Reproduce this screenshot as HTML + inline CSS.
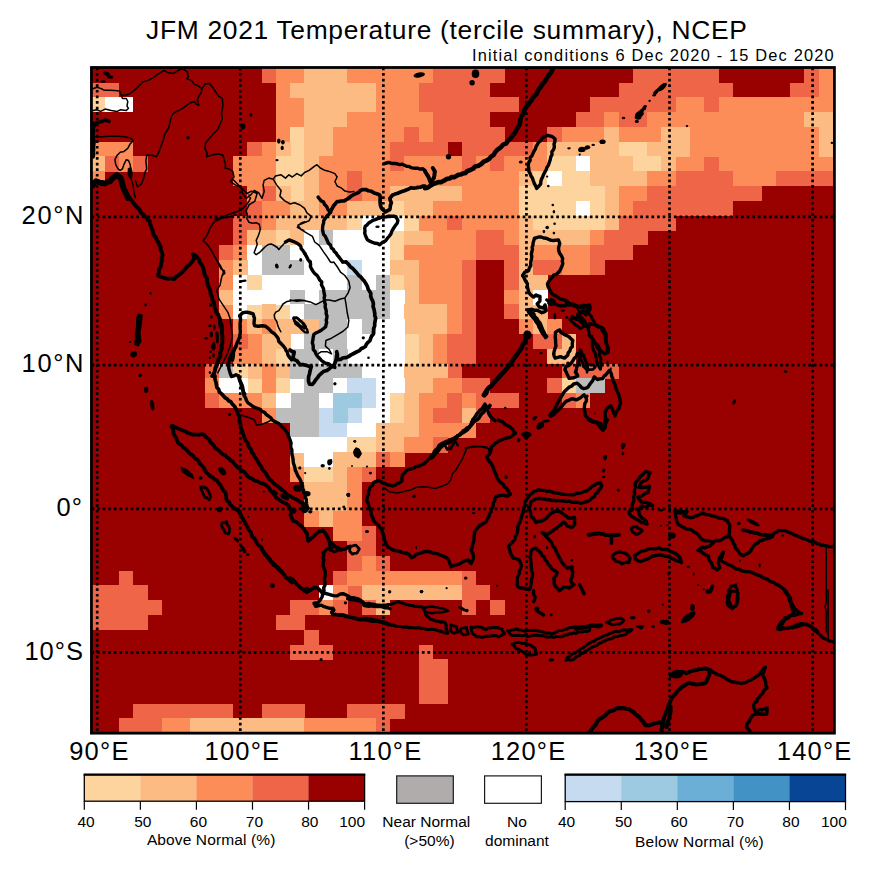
<!DOCTYPE html>
<html><head><meta charset="utf-8"><title>JFM 2021 Temperature (tercile summary), NCEP</title>
<style>
html,body{margin:0;padding:0;background:#fff;}
body{width:893px;height:874px;position:relative;overflow:hidden;font-family:"Liberation Sans",sans-serif;color:#000;}
.t{position:absolute;white-space:nowrap;}
</style></head><body>
<svg width="893" height="874" viewBox="0 0 893 874" style="position:absolute;left:0;top:0">
<defs><clipPath id="cp"><rect x="91.45" y="67.5" width="742.95" height="665.65"/></clipPath></defs>
<g clip-path="url(#cp)" shape-rendering="crispEdges">
<rect x="91.45" y="67.5" width="742.95" height="665.65" fill="#990000"/>
<rect x="261.65" y="67.71" width="14.58" height="15.09" fill="#EF6548"/>
<rect x="261.65" y="186.03" width="14.58" height="15.09" fill="#EF6548"/>
<rect x="275.93" y="67.71" width="28.86" height="15.09" fill="#FC8D59"/>
<rect x="275.93" y="97.29" width="28.86" height="29.88" fill="#FC8D59"/>
<rect x="304.49" y="67.71" width="43.14" height="15.09" fill="#FDBB84"/>
<rect x="304.49" y="112.08" width="43.14" height="15.09" fill="#FDBB84"/>
<rect x="304.49" y="481.83" width="43.14" height="29.88" fill="#FDBB84"/>
<rect x="347.33" y="67.71" width="85.98" height="15.09" fill="#FC8D59"/>
<rect x="347.33" y="112.08" width="85.98" height="15.09" fill="#FC8D59"/>
<rect x="433.01" y="67.71" width="71.7" height="15.09" fill="#EF6548"/>
<rect x="433.01" y="126.87" width="71.7" height="15.09" fill="#EF6548"/>
<rect x="632.93" y="67.71" width="85.98" height="15.09" fill="#EF6548"/>
<rect x="804.29" y="67.71" width="14.58" height="15.09" fill="#EF6548"/>
<rect x="818.57" y="67.71" width="14.58" height="29.88" fill="#FC8D59"/>
<rect x="90.29" y="82.5" width="28.86" height="15.09" fill="#EF6548"/>
<rect x="275.93" y="82.5" width="14.58" height="15.09" fill="#FC8D59"/>
<rect x="275.93" y="126.87" width="14.58" height="15.09" fill="#FC8D59"/>
<rect x="290.21" y="82.5" width="85.98" height="15.09" fill="#FDBB84"/>
<rect x="375.89" y="82.5" width="43.14" height="29.88" fill="#FC8D59"/>
<rect x="418.73" y="82.5" width="71.7" height="15.09" fill="#EF6548"/>
<rect x="618.65" y="82.5" width="114.54" height="15.09" fill="#EF6548"/>
<rect x="790.01" y="82.5" width="28.86" height="15.09" fill="#EF6548"/>
<rect x="90.29" y="97.29" width="14.58" height="15.09" fill="#FDD49E"/>
<rect x="104.57" y="97.29" width="28.86" height="15.09" fill="#FFFFFF"/>
<rect x="304.49" y="97.29" width="71.7" height="15.09" fill="#FDBB84"/>
<rect x="418.73" y="97.29" width="100.26" height="15.09" fill="#EF6548"/>
<rect x="590.09" y="97.29" width="85.98" height="15.09" fill="#EF6548"/>
<rect x="675.77" y="97.29" width="28.86" height="15.09" fill="#FC8D59"/>
<rect x="675.77" y="156.45" width="28.86" height="15.09" fill="#FC8D59"/>
<rect x="704.33" y="97.29" width="14.58" height="15.09" fill="#EF6548"/>
<rect x="704.33" y="156.45" width="14.58" height="15.09" fill="#EF6548"/>
<rect x="718.61" y="97.29" width="114.54" height="15.09" fill="#FC8D59"/>
<rect x="718.61" y="156.45" width="114.54" height="15.09" fill="#FC8D59"/>
<rect x="433.01" y="112.08" width="57.42" height="15.09" fill="#EF6548"/>
<rect x="575.81" y="112.08" width="28.86" height="15.09" fill="#EF6548"/>
<rect x="604.37" y="112.08" width="14.58" height="15.09" fill="#FC8D59"/>
<rect x="618.65" y="112.08" width="28.86" height="15.09" fill="#EF6548"/>
<rect x="647.21" y="112.08" width="157.38" height="15.09" fill="#FC8D59"/>
<rect x="804.29" y="112.08" width="28.86" height="15.09" fill="#FDBB84"/>
<rect x="290.21" y="126.87" width="14.58" height="29.88" fill="#FDD49E"/>
<rect x="290.21" y="186.03" width="14.58" height="15.09" fill="#FDD49E"/>
<rect x="304.49" y="126.87" width="28.86" height="29.88" fill="#FDBB84"/>
<rect x="333.05" y="126.87" width="71.7" height="15.09" fill="#FC8D59"/>
<rect x="404.45" y="126.87" width="14.58" height="15.09" fill="#EF6548"/>
<rect x="418.73" y="126.87" width="14.58" height="15.09" fill="#FC8D59"/>
<rect x="418.73" y="407.88" width="14.58" height="15.09" fill="#FC8D59"/>
<rect x="547.25" y="126.87" width="14.58" height="15.09" fill="#EF6548"/>
<rect x="547.25" y="378.3" width="14.58" height="15.09" fill="#EF6548"/>
<rect x="561.53" y="126.87" width="43.14" height="15.09" fill="#FC8D59"/>
<rect x="604.37" y="126.87" width="14.58" height="15.09" fill="#FDBB84"/>
<rect x="604.37" y="186.03" width="14.58" height="44.67" fill="#FDBB84"/>
<rect x="618.65" y="126.87" width="43.14" height="15.09" fill="#FC8D59"/>
<rect x="661.49" y="126.87" width="28.86" height="15.09" fill="#FDBB84"/>
<rect x="690.05" y="126.87" width="128.82" height="29.88" fill="#FC8D59"/>
<rect x="818.57" y="126.87" width="14.58" height="29.88" fill="#FDBB84"/>
<rect x="90.29" y="141.66" width="43.14" height="15.09" fill="#FC8D59"/>
<rect x="247.37" y="141.66" width="14.58" height="15.09" fill="#EF6548"/>
<rect x="247.37" y="200.82" width="14.58" height="15.09" fill="#EF6548"/>
<rect x="261.65" y="141.66" width="14.58" height="15.09" fill="#FC8D59"/>
<rect x="261.65" y="215.61" width="14.58" height="15.09" fill="#FC8D59"/>
<rect x="261.65" y="319.14" width="14.58" height="15.09" fill="#FC8D59"/>
<rect x="261.65" y="363.51" width="14.58" height="29.88" fill="#FC8D59"/>
<rect x="261.65" y="407.88" width="14.58" height="15.09" fill="#FC8D59"/>
<rect x="275.93" y="141.66" width="14.58" height="15.09" fill="#FDBB84"/>
<rect x="275.93" y="186.03" width="14.58" height="15.09" fill="#FDBB84"/>
<rect x="275.93" y="363.51" width="14.58" height="15.09" fill="#FDBB84"/>
<rect x="333.05" y="141.66" width="57.42" height="15.09" fill="#FC8D59"/>
<rect x="390.17" y="141.66" width="57.42" height="15.09" fill="#EF6548"/>
<rect x="461.57" y="141.66" width="71.7" height="15.09" fill="#EF6548"/>
<rect x="532.97" y="141.66" width="14.58" height="15.09" fill="#FC8D59"/>
<rect x="547.25" y="141.66" width="71.7" height="15.09" fill="#FDBB84"/>
<rect x="618.65" y="141.66" width="28.86" height="15.09" fill="#FDD49E"/>
<rect x="647.21" y="141.66" width="43.14" height="15.09" fill="#FDBB84"/>
<rect x="90.29" y="156.45" width="14.58" height="15.09" fill="#FDBB84"/>
<rect x="104.57" y="156.45" width="14.58" height="15.09" fill="#EF6548"/>
<rect x="118.85" y="156.45" width="14.58" height="15.09" fill="#FC8D59"/>
<rect x="133.13" y="156.45" width="14.58" height="15.09" fill="#EF6548"/>
<rect x="233.09" y="156.45" width="43.14" height="29.88" fill="#FC8D59"/>
<rect x="275.93" y="156.45" width="28.86" height="29.88" fill="#FDD49E"/>
<rect x="304.49" y="156.45" width="14.58" height="44.67" fill="#FDBB84"/>
<rect x="318.77" y="156.45" width="71.7" height="15.09" fill="#FC8D59"/>
<rect x="390.17" y="156.45" width="14.58" height="15.09" fill="#EF6548"/>
<rect x="404.45" y="156.45" width="57.42" height="15.09" fill="#FC8D59"/>
<rect x="461.57" y="156.45" width="14.58" height="15.09" fill="#EF6548"/>
<rect x="461.57" y="259.98" width="14.58" height="74.25" fill="#EF6548"/>
<rect x="461.57" y="570.57" width="14.58" height="15.09" fill="#EF6548"/>
<rect x="461.57" y="600.15" width="14.58" height="15.09" fill="#EF6548"/>
<rect x="475.85" y="156.45" width="14.58" height="15.09" fill="#FC8D59"/>
<rect x="490.13" y="156.45" width="14.58" height="15.09" fill="#EF6548"/>
<rect x="490.13" y="600.15" width="14.58" height="15.09" fill="#EF6548"/>
<rect x="504.41" y="156.45" width="43.14" height="15.09" fill="#FC8D59"/>
<rect x="547.25" y="156.45" width="28.86" height="15.09" fill="#FDD49E"/>
<rect x="575.81" y="156.45" width="14.58" height="15.09" fill="#FFFFFF"/>
<rect x="575.81" y="200.82" width="14.58" height="15.09" fill="#FFFFFF"/>
<rect x="590.09" y="156.45" width="43.14" height="15.09" fill="#FDBB84"/>
<rect x="632.93" y="156.45" width="28.86" height="15.09" fill="#FDD49E"/>
<rect x="661.49" y="156.45" width="14.58" height="15.09" fill="#FDBB84"/>
<rect x="90.29" y="171.24" width="14.58" height="15.09" fill="#FC8D59"/>
<rect x="318.77" y="171.24" width="28.86" height="44.67" fill="#FC8D59"/>
<rect x="347.33" y="171.24" width="14.58" height="29.88" fill="#EF6548"/>
<rect x="347.33" y="555.78" width="14.58" height="15.09" fill="#EF6548"/>
<rect x="347.33" y="585.36" width="14.58" height="15.09" fill="#EF6548"/>
<rect x="361.61" y="171.24" width="157.38" height="15.09" fill="#FC8D59"/>
<rect x="518.69" y="171.24" width="14.58" height="15.09" fill="#FDBB84"/>
<rect x="518.69" y="215.61" width="14.58" height="15.09" fill="#FDBB84"/>
<rect x="518.69" y="245.19" width="14.58" height="29.88" fill="#FDBB84"/>
<rect x="518.69" y="289.56" width="14.58" height="15.09" fill="#FDBB84"/>
<rect x="532.97" y="171.24" width="14.58" height="15.09" fill="#FDD49E"/>
<rect x="547.25" y="171.24" width="14.58" height="15.09" fill="#FFFFFF"/>
<rect x="561.53" y="171.24" width="28.86" height="15.09" fill="#FDD49E"/>
<rect x="590.09" y="171.24" width="57.42" height="15.09" fill="#FDBB84"/>
<rect x="647.21" y="171.24" width="28.86" height="15.09" fill="#FC8D59"/>
<rect x="675.77" y="171.24" width="57.42" height="15.09" fill="#EF6548"/>
<rect x="732.89" y="171.24" width="43.14" height="15.09" fill="#FC8D59"/>
<rect x="775.73" y="171.24" width="57.42" height="15.09" fill="#EF6548"/>
<rect x="247.37" y="186.03" width="14.58" height="15.09" fill="#FC8D59"/>
<rect x="247.37" y="333.93" width="14.58" height="15.09" fill="#FC8D59"/>
<rect x="361.61" y="186.03" width="28.86" height="15.09" fill="#FC8D59"/>
<rect x="390.17" y="186.03" width="71.7" height="15.09" fill="#FDBB84"/>
<rect x="461.57" y="186.03" width="57.42" height="15.09" fill="#FC8D59"/>
<rect x="461.57" y="215.61" width="57.42" height="15.09" fill="#FC8D59"/>
<rect x="518.69" y="186.03" width="85.98" height="15.09" fill="#FDD49E"/>
<rect x="618.65" y="186.03" width="28.86" height="15.09" fill="#FC8D59"/>
<rect x="647.21" y="186.03" width="114.54" height="15.09" fill="#EF6548"/>
<rect x="261.65" y="200.82" width="28.86" height="15.09" fill="#FC8D59"/>
<rect x="290.21" y="200.82" width="28.86" height="15.09" fill="#FDBB84"/>
<rect x="347.33" y="200.82" width="43.14" height="15.09" fill="#FDBB84"/>
<rect x="390.17" y="200.82" width="14.58" height="15.09" fill="#FDD49E"/>
<rect x="390.17" y="230.4" width="14.58" height="29.88" fill="#FDD49E"/>
<rect x="390.17" y="274.77" width="14.58" height="15.09" fill="#FDD49E"/>
<rect x="390.17" y="393.09" width="14.58" height="29.88" fill="#FDD49E"/>
<rect x="404.45" y="200.82" width="28.86" height="15.09" fill="#FDBB84"/>
<rect x="404.45" y="230.4" width="28.86" height="15.09" fill="#FDBB84"/>
<rect x="404.45" y="378.3" width="28.86" height="15.09" fill="#FDBB84"/>
<rect x="433.01" y="200.82" width="85.98" height="15.09" fill="#FC8D59"/>
<rect x="518.69" y="200.82" width="57.42" height="15.09" fill="#FDD49E"/>
<rect x="590.09" y="200.82" width="14.58" height="15.09" fill="#FDD49E"/>
<rect x="618.65" y="200.82" width="14.58" height="15.09" fill="#FC8D59"/>
<rect x="632.93" y="200.82" width="100.26" height="15.09" fill="#EF6548"/>
<rect x="233.09" y="215.61" width="28.86" height="15.09" fill="#EF6548"/>
<rect x="275.93" y="215.61" width="71.7" height="15.09" fill="#FDBB84"/>
<rect x="347.33" y="215.61" width="14.58" height="15.09" fill="#FDD49E"/>
<rect x="361.61" y="215.61" width="43.14" height="15.09" fill="#FFFFFF"/>
<rect x="361.61" y="363.51" width="43.14" height="15.09" fill="#FFFFFF"/>
<rect x="404.45" y="215.61" width="14.58" height="15.09" fill="#FDD49E"/>
<rect x="404.45" y="333.93" width="14.58" height="29.88" fill="#FDD49E"/>
<rect x="418.73" y="215.61" width="28.86" height="15.09" fill="#FC8D59"/>
<rect x="418.73" y="393.09" width="28.86" height="15.09" fill="#FC8D59"/>
<rect x="447.29" y="215.61" width="14.58" height="15.09" fill="#EF6548"/>
<rect x="447.29" y="363.51" width="14.58" height="15.09" fill="#EF6548"/>
<rect x="447.29" y="393.09" width="14.58" height="15.09" fill="#EF6548"/>
<rect x="532.97" y="215.61" width="71.7" height="15.09" fill="#FDD49E"/>
<rect x="618.65" y="215.61" width="57.42" height="15.09" fill="#EF6548"/>
<rect x="233.09" y="230.4" width="14.58" height="15.09" fill="#EF6548"/>
<rect x="233.09" y="333.93" width="14.58" height="15.09" fill="#EF6548"/>
<rect x="247.37" y="230.4" width="28.86" height="15.09" fill="#FDBB84"/>
<rect x="275.93" y="230.4" width="14.58" height="15.09" fill="#FDD49E"/>
<rect x="275.93" y="304.35" width="14.58" height="15.09" fill="#FDD49E"/>
<rect x="275.93" y="348.72" width="14.58" height="15.09" fill="#FDD49E"/>
<rect x="275.93" y="378.3" width="14.58" height="15.09" fill="#FDD49E"/>
<rect x="290.21" y="230.4" width="14.58" height="15.09" fill="#FDBB84"/>
<rect x="290.21" y="452.25" width="14.58" height="15.09" fill="#FDBB84"/>
<rect x="304.49" y="230.4" width="14.58" height="15.09" fill="#FFFFFF"/>
<rect x="304.49" y="289.56" width="14.58" height="15.09" fill="#FFFFFF"/>
<rect x="318.77" y="230.4" width="14.58" height="15.09" fill="#BDBDBD"/>
<rect x="333.05" y="230.4" width="57.42" height="15.09" fill="#FFFFFF"/>
<rect x="433.01" y="230.4" width="43.14" height="15.09" fill="#FC8D59"/>
<rect x="475.85" y="230.4" width="28.86" height="15.09" fill="#EF6548"/>
<rect x="504.41" y="230.4" width="14.58" height="15.09" fill="#FC8D59"/>
<rect x="504.41" y="289.56" width="14.58" height="15.09" fill="#FC8D59"/>
<rect x="518.69" y="230.4" width="71.7" height="15.09" fill="#FDBB84"/>
<rect x="590.09" y="230.4" width="14.58" height="15.09" fill="#FC8D59"/>
<rect x="604.37" y="230.4" width="43.14" height="15.09" fill="#EF6548"/>
<rect x="218.81" y="245.19" width="14.58" height="15.09" fill="#EF6548"/>
<rect x="233.09" y="245.19" width="14.58" height="15.09" fill="#FC8D59"/>
<rect x="233.09" y="319.14" width="14.58" height="15.09" fill="#FC8D59"/>
<rect x="247.37" y="245.19" width="14.58" height="29.88" fill="#FFFFFF"/>
<rect x="261.65" y="245.19" width="28.86" height="15.09" fill="#BDBDBD"/>
<rect x="290.21" y="245.19" width="100.26" height="15.09" fill="#FFFFFF"/>
<rect x="404.45" y="245.19" width="71.7" height="15.09" fill="#FC8D59"/>
<rect x="475.85" y="245.19" width="43.14" height="15.09" fill="#EF6548"/>
<rect x="475.85" y="393.09" width="43.14" height="15.09" fill="#EF6548"/>
<rect x="532.97" y="245.19" width="57.42" height="15.09" fill="#FC8D59"/>
<rect x="590.09" y="245.19" width="43.14" height="15.09" fill="#EF6548"/>
<rect x="218.81" y="259.98" width="14.58" height="29.88" fill="#FC8D59"/>
<rect x="218.81" y="304.35" width="14.58" height="15.09" fill="#FC8D59"/>
<rect x="233.09" y="259.98" width="14.58" height="15.09" fill="#FDBB84"/>
<rect x="261.65" y="259.98" width="43.14" height="15.09" fill="#BDBDBD"/>
<rect x="304.49" y="259.98" width="43.14" height="15.09" fill="#FFFFFF"/>
<rect x="347.33" y="259.98" width="14.58" height="15.09" fill="#C6DBEF"/>
<rect x="347.33" y="407.88" width="14.58" height="15.09" fill="#C6DBEF"/>
<rect x="361.61" y="259.98" width="28.86" height="15.09" fill="#FFFFFF"/>
<rect x="361.61" y="407.88" width="28.86" height="15.09" fill="#FFFFFF"/>
<rect x="390.17" y="259.98" width="28.86" height="15.09" fill="#FDBB84"/>
<rect x="418.73" y="259.98" width="43.14" height="44.67" fill="#FC8D59"/>
<rect x="504.41" y="259.98" width="14.58" height="29.88" fill="#EF6548"/>
<rect x="504.41" y="304.35" width="14.58" height="15.09" fill="#EF6548"/>
<rect x="532.97" y="259.98" width="28.86" height="15.09" fill="#EF6548"/>
<rect x="532.97" y="333.93" width="28.86" height="15.09" fill="#EF6548"/>
<rect x="561.53" y="259.98" width="28.86" height="15.09" fill="#FC8D59"/>
<rect x="590.09" y="259.98" width="14.58" height="15.09" fill="#EF6548"/>
<rect x="233.09" y="274.77" width="14.58" height="15.09" fill="#FFFFFF"/>
<rect x="233.09" y="304.35" width="14.58" height="15.09" fill="#FFFFFF"/>
<rect x="247.37" y="274.77" width="14.58" height="15.09" fill="#FDD49E"/>
<rect x="247.37" y="304.35" width="14.58" height="15.09" fill="#FDD49E"/>
<rect x="247.37" y="378.3" width="14.58" height="15.09" fill="#FDD49E"/>
<rect x="261.65" y="274.77" width="85.98" height="15.09" fill="#FFFFFF"/>
<rect x="347.33" y="274.77" width="14.58" height="15.09" fill="#BDBDBD"/>
<rect x="361.61" y="274.77" width="14.58" height="15.09" fill="#FFFFFF"/>
<rect x="375.89" y="274.77" width="14.58" height="15.09" fill="#BDBDBD"/>
<rect x="404.45" y="274.77" width="14.58" height="29.88" fill="#FDBB84"/>
<rect x="404.45" y="393.09" width="14.58" height="29.88" fill="#FDBB84"/>
<rect x="518.69" y="274.77" width="28.86" height="15.09" fill="#FDBB84"/>
<rect x="518.69" y="304.35" width="28.86" height="15.09" fill="#FDBB84"/>
<rect x="218.81" y="289.56" width="14.58" height="15.09" fill="#FDBB84"/>
<rect x="233.09" y="289.56" width="57.42" height="15.09" fill="#FFFFFF"/>
<rect x="290.21" y="289.56" width="14.58" height="15.09" fill="#BDBDBD"/>
<rect x="318.77" y="289.56" width="71.7" height="15.09" fill="#BDBDBD"/>
<rect x="390.17" y="289.56" width="14.58" height="29.88" fill="#FFFFFF"/>
<rect x="532.97" y="289.56" width="14.58" height="15.09" fill="#FFFFFF"/>
<rect x="261.65" y="304.35" width="14.58" height="15.09" fill="#FDBB84"/>
<rect x="261.65" y="348.72" width="14.58" height="15.09" fill="#FDBB84"/>
<rect x="261.65" y="393.09" width="14.58" height="15.09" fill="#FDBB84"/>
<rect x="290.21" y="304.35" width="14.58" height="15.09" fill="#FFFFFF"/>
<rect x="290.21" y="333.93" width="14.58" height="15.09" fill="#FFFFFF"/>
<rect x="290.21" y="378.3" width="14.58" height="15.09" fill="#FFFFFF"/>
<rect x="304.49" y="304.35" width="85.98" height="15.09" fill="#BDBDBD"/>
<rect x="404.45" y="304.35" width="43.14" height="29.88" fill="#FDBB84"/>
<rect x="404.45" y="363.51" width="43.14" height="15.09" fill="#FDBB84"/>
<rect x="447.29" y="304.35" width="14.58" height="29.88" fill="#FC8D59"/>
<rect x="247.37" y="319.14" width="14.58" height="15.09" fill="#FDBB84"/>
<rect x="247.37" y="363.51" width="14.58" height="15.09" fill="#FDBB84"/>
<rect x="275.93" y="319.14" width="43.14" height="15.09" fill="#FDBB84"/>
<rect x="318.77" y="319.14" width="28.86" height="15.09" fill="#BDBDBD"/>
<rect x="347.33" y="319.14" width="14.58" height="15.09" fill="#FFFFFF"/>
<rect x="361.61" y="319.14" width="14.58" height="15.09" fill="#BDBDBD"/>
<rect x="375.89" y="319.14" width="28.86" height="15.09" fill="#FFFFFF"/>
<rect x="375.89" y="378.3" width="28.86" height="15.09" fill="#FFFFFF"/>
<rect x="518.69" y="319.14" width="14.58" height="15.09" fill="#FC8D59"/>
<rect x="532.97" y="319.14" width="14.58" height="15.09" fill="#FDBB84"/>
<rect x="547.25" y="319.14" width="14.58" height="15.09" fill="#FC8D59"/>
<rect x="261.65" y="333.93" width="28.86" height="15.09" fill="#FDBB84"/>
<rect x="304.49" y="333.93" width="43.14" height="15.09" fill="#BDBDBD"/>
<rect x="347.33" y="333.93" width="57.42" height="29.88" fill="#FFFFFF"/>
<rect x="418.73" y="333.93" width="14.58" height="29.88" fill="#FDBB84"/>
<rect x="433.01" y="333.93" width="14.58" height="29.88" fill="#FC8D59"/>
<rect x="447.29" y="333.93" width="28.86" height="29.88" fill="#EF6548"/>
<rect x="561.53" y="333.93" width="14.58" height="15.09" fill="#FDBB84"/>
<rect x="233.09" y="348.72" width="28.86" height="15.09" fill="#FC8D59"/>
<rect x="290.21" y="348.72" width="28.86" height="15.09" fill="#BDBDBD"/>
<rect x="290.21" y="393.09" width="28.86" height="15.09" fill="#BDBDBD"/>
<rect x="290.21" y="422.67" width="28.86" height="15.09" fill="#BDBDBD"/>
<rect x="318.77" y="348.72" width="14.58" height="15.09" fill="#FFFFFF"/>
<rect x="318.77" y="393.09" width="14.58" height="15.09" fill="#FFFFFF"/>
<rect x="318.77" y="585.36" width="14.58" height="15.09" fill="#FFFFFF"/>
<rect x="333.05" y="348.72" width="14.58" height="15.09" fill="#BDBDBD"/>
<rect x="547.25" y="348.72" width="28.86" height="15.09" fill="#FDBB84"/>
<rect x="204.53" y="363.51" width="14.58" height="15.09" fill="#EF6548"/>
<rect x="204.53" y="393.09" width="14.58" height="15.09" fill="#EF6548"/>
<rect x="218.81" y="363.51" width="14.58" height="15.09" fill="#BDBDBD"/>
<rect x="233.09" y="363.51" width="14.58" height="15.09" fill="#FDD49E"/>
<rect x="290.21" y="363.51" width="71.7" height="15.09" fill="#BDBDBD"/>
<rect x="561.53" y="363.51" width="57.42" height="15.09" fill="#EF6548"/>
<rect x="204.53" y="378.3" width="14.58" height="15.09" fill="#FC8D59"/>
<rect x="218.81" y="378.3" width="28.86" height="15.09" fill="#FFFFFF"/>
<rect x="304.49" y="378.3" width="28.86" height="15.09" fill="#BDBDBD"/>
<rect x="333.05" y="378.3" width="14.58" height="15.09" fill="#FFFFFF"/>
<rect x="347.33" y="378.3" width="28.86" height="15.09" fill="#C6DBEF"/>
<rect x="433.01" y="378.3" width="28.86" height="15.09" fill="#FC8D59"/>
<rect x="461.57" y="378.3" width="28.86" height="15.09" fill="#EF6548"/>
<rect x="461.57" y="585.36" width="28.86" height="15.09" fill="#EF6548"/>
<rect x="561.53" y="378.3" width="14.58" height="15.09" fill="#FDD49E"/>
<rect x="575.81" y="378.3" width="28.86" height="15.09" fill="#BDBDBD"/>
<rect x="218.81" y="393.09" width="43.14" height="15.09" fill="#FC8D59"/>
<rect x="275.93" y="393.09" width="14.58" height="15.09" fill="#FFFFFF"/>
<rect x="333.05" y="393.09" width="28.86" height="15.09" fill="#9ECAE1"/>
<rect x="361.61" y="393.09" width="14.58" height="15.09" fill="#C6DBEF"/>
<rect x="375.89" y="393.09" width="14.58" height="15.09" fill="#FFFFFF"/>
<rect x="461.57" y="393.09" width="14.58" height="15.09" fill="#FC8D59"/>
<rect x="561.53" y="393.09" width="14.58" height="15.09" fill="#EF6548"/>
<rect x="575.81" y="393.09" width="14.58" height="15.09" fill="#FC8D59"/>
<rect x="275.93" y="407.88" width="43.14" height="15.09" fill="#BDBDBD"/>
<rect x="318.77" y="407.88" width="14.58" height="15.09" fill="#C6DBEF"/>
<rect x="333.05" y="407.88" width="14.58" height="15.09" fill="#9ECAE1"/>
<rect x="433.01" y="407.88" width="28.86" height="15.09" fill="#EF6548"/>
<rect x="461.57" y="407.88" width="14.58" height="15.09" fill="#FDBB84"/>
<rect x="475.85" y="407.88" width="14.58" height="15.09" fill="#EF6548"/>
<rect x="318.77" y="422.67" width="28.86" height="15.09" fill="#C6DBEF"/>
<rect x="347.33" y="422.67" width="28.86" height="15.09" fill="#FFFFFF"/>
<rect x="375.89" y="422.67" width="43.14" height="15.09" fill="#FDBB84"/>
<rect x="418.73" y="422.67" width="57.42" height="15.09" fill="#FC8D59"/>
<rect x="290.21" y="437.46" width="57.42" height="15.09" fill="#FFFFFF"/>
<rect x="347.33" y="437.46" width="28.86" height="15.09" fill="#FDD49E"/>
<rect x="375.89" y="437.46" width="28.86" height="15.09" fill="#FDBB84"/>
<rect x="404.45" y="437.46" width="28.86" height="15.09" fill="#FC8D59"/>
<rect x="433.01" y="437.46" width="14.58" height="15.09" fill="#EF6548"/>
<rect x="304.49" y="452.25" width="28.86" height="15.09" fill="#FFFFFF"/>
<rect x="333.05" y="452.25" width="43.14" height="15.09" fill="#FDBB84"/>
<rect x="375.89" y="452.25" width="14.58" height="15.09" fill="#EF6548"/>
<rect x="375.89" y="555.78" width="14.58" height="15.09" fill="#EF6548"/>
<rect x="375.89" y="718.47" width="14.58" height="15.09" fill="#EF6548"/>
<rect x="390.17" y="452.25" width="14.58" height="15.09" fill="#FC8D59"/>
<rect x="290.21" y="467.04" width="14.58" height="15.09" fill="#FC8D59"/>
<rect x="304.49" y="467.04" width="28.86" height="15.09" fill="#FDD49E"/>
<rect x="333.05" y="467.04" width="14.58" height="15.09" fill="#FDBB84"/>
<rect x="347.33" y="467.04" width="14.58" height="44.67" fill="#FC8D59"/>
<rect x="361.61" y="467.04" width="14.58" height="15.09" fill="#EF6548"/>
<rect x="361.61" y="526.2" width="14.58" height="15.09" fill="#EF6548"/>
<rect x="361.61" y="600.15" width="14.58" height="15.09" fill="#EF6548"/>
<rect x="304.49" y="511.41" width="14.58" height="15.09" fill="#FC8D59"/>
<rect x="318.77" y="511.41" width="14.58" height="15.09" fill="#FDBB84"/>
<rect x="333.05" y="511.41" width="28.86" height="29.88" fill="#FC8D59"/>
<rect x="347.33" y="540.99" width="28.86" height="15.09" fill="#EF6548"/>
<rect x="361.61" y="555.78" width="14.58" height="15.09" fill="#FC8D59"/>
<rect x="118.85" y="570.57" width="14.58" height="15.09" fill="#EF6548"/>
<rect x="333.05" y="570.57" width="14.58" height="15.09" fill="#EF6548"/>
<rect x="333.05" y="600.15" width="14.58" height="15.09" fill="#EF6548"/>
<rect x="347.33" y="570.57" width="114.54" height="15.09" fill="#FC8D59"/>
<rect x="90.29" y="585.36" width="57.42" height="15.09" fill="#EF6548"/>
<rect x="90.29" y="614.94" width="57.42" height="15.09" fill="#EF6548"/>
<rect x="333.05" y="585.36" width="14.58" height="15.09" fill="#FC8D59"/>
<rect x="361.61" y="585.36" width="100.26" height="15.09" fill="#FDBB84"/>
<rect x="90.29" y="600.15" width="71.7" height="15.09" fill="#EF6548"/>
<rect x="290.21" y="600.15" width="28.86" height="15.09" fill="#EF6548"/>
<rect x="318.77" y="600.15" width="14.58" height="15.09" fill="#FC8D59"/>
<rect x="375.89" y="600.15" width="14.58" height="15.09" fill="#FDBB84"/>
<rect x="275.93" y="614.94" width="28.86" height="15.09" fill="#EF6548"/>
<rect x="304.49" y="629.73" width="14.58" height="15.09" fill="#EF6548"/>
<rect x="290.21" y="644.52" width="43.14" height="15.09" fill="#EF6548"/>
<rect x="418.73" y="644.52" width="14.58" height="15.09" fill="#EF6548"/>
<rect x="418.73" y="659.31" width="28.86" height="44.67" fill="#EF6548"/>
<rect x="133.13" y="703.68" width="100.26" height="15.09" fill="#EF6548"/>
<rect x="261.65" y="703.68" width="43.14" height="15.09" fill="#EF6548"/>
<rect x="347.33" y="703.68" width="57.42" height="15.09" fill="#EF6548"/>
<rect x="118.85" y="718.47" width="43.14" height="15.09" fill="#EF6548"/>
<rect x="161.69" y="718.47" width="28.86" height="15.09" fill="#FC8D59"/>
<rect x="190.25" y="718.47" width="114.54" height="15.09" fill="#FDBB84"/>
<rect x="304.49" y="718.47" width="71.7" height="15.09" fill="#FC8D59"/>
</g>
<g clip-path="url(#cp)"><g stroke="#000" stroke-width="2.7" stroke-dasharray="2.7 2.9" fill="none"><line x1="97.2" y1="67.5" x2="97.2" y2="733.15"/><line x1="240.28" y1="67.5" x2="240.28" y2="733.15"/><line x1="383.36" y1="67.5" x2="383.36" y2="733.15"/><line x1="526.44" y1="67.5" x2="526.44" y2="733.15"/><line x1="669.52" y1="67.5" x2="669.52" y2="733.15"/><line x1="812.6" y1="67.5" x2="812.6" y2="733.15"/><line x1="91.45" y1="216.8" x2="834.4" y2="216.8"/><line x1="91.45" y1="365.2" x2="834.4" y2="365.2"/><line x1="91.45" y1="508.8" x2="834.4" y2="508.8"/><line x1="91.45" y1="652.3" x2="834.4" y2="652.3"/></g>
<g fill="none" stroke="#000" stroke-linejoin="round" stroke-linecap="round"><path stroke-width="3.5" d="M318.1 197.2 319.6 199 321.1 200.9 323.5 201.9 324.4 204.2 326.7 206.6 328 209.6 330.4 212.2"/><path stroke-width="1.5" d="M93 88.7 96.8 87.2 100.6 88.4 104.4 90.2 109.7 90.2 114.9 90.5 119.5 90.9 121 94.7 124 95.5 129.3 94 133.8 90.9 138.4 86.4 142.9 81.9 148.2 80.4 153.5 77.3 158.8 73.6 164.1 70.5 168.6 72.8 173.1 73.6 176.9 71.3 180.7 69 184.5 69.8 187.5 72 188.3 76.6 186.8 78.8 191.3 80.4 194.3 84.1 198.1 85.7 201.9 88.7 201.1 92.5 198.8 96.2 197.3 100 198.8 105.3 195.8 103.8 194.3 101.5 189.8 103 183.7 107.6 178.4 110.6 173.9 112.9 171.6 115.9 170.1 121.9 168.6 128 164.8 134 163.3 140.1 161.1 146.1 158.8 152.2 156.5 156.7 152 155.2 146.7 155.2 145.9 161.2 146.7 168.8 145.2 171.8 143.7 177.9 141.4 183.9 137.6 186.9 135.4 180.9M201.9 88.7 204.9 84.1 209.4 83.4 212.5 87.2 215.5 91.7 218.5 96.2 222.3 98.5 223 105.3 221.5 112.9 222.3 118.9 220 124.2 217.7 129.5 213.2 134 209.4 138.6 205.6 143.1 204.9 148.4 207.2 152.9 206.4 156.7 210.9 155.2 218.5 153.7 223 155.2 225 162.8M121 94.7 122.5 98.5 126.3 98.5 127.8 101.5 127 106.1 128.5 108.3 126.3 110.6 120.2 109.8 117.2 111.4 111.2 110.6 105.1 109.1 100.6 111.4 96.8 109.8 93 110.6M95.3 137.1 102.1 136.8 109.7 136.3 117.2 136.3 124.8 136.8 130.8 138.3 133.1 140.8 130.1 143.9 127.8 148.4 124 151.4 120.2 152.2 117.2 155.2 114.9 159.7 115.7 164.3 118 168.8 120.2 170.3 122.5 168.8 124 164.3 126.3 159.7 128.5 160.5 130.1 164.3 130.8 168.8M130.8 177.9 133.1 185.4 133.8 191.5 135.4 197.5M264.2 180.4 268.7 178.1 273.2 179.2 275.5 175.9 281.1 174.8 285.5 178.1 288.9 174.8 292.3 177 296.8 173.6 301.2 175.9 304.6 172.5 309.1 170.3 313.6 166.9 316.9 164.7 320.3 168 324.8 170.3 329.3 171.4 334.9 173.6 337.1 177 334.9 181.5 337.1 186 341.6 188.2 345 191.1 349.5 192 353.9 191.6M225 168 229.5 169.2 232.8 171.4 234 177 230.6 181.5 235.1 184.9 240.7 187.1 242.9 193.8 246.3 198.3 250.8 194.9 254.2 190.5 258.6 192.7 262 198.3 264.2 191.6 263.1 184.9 264.2 180.4M273.2 179.2 276.6 184.9 281.1 190.5 279.9 196.1 284.4 200.6 290 203.9 294.5 202.8 300.1 205 304.6 208.4 306.9 212.9 311.3 216.3 309.1 220.7 303.5 223 297.9 225.2 301.2 229.7 306.9 233.1 312.5 236.4 314.7 242 319.2 245.4 323.7 252.1 327 256.6 330.4 262M249 195 250.5 198.1 249 201.2 246.9 204.3 243.8 207.4 240.7 210.4 237.1 211.5 233.5 213 229.4 214.1 225.3 215.6 221.2 217.1 217.1 218.7 215 219.2M245.9 210.4 247.4 214.6 246.9 218.7 249 222.3 252.6 223.3 256.2 222.8 259.3 224.3 260.3 229 259.3 233.1 257.7 237.2 256.2 240.3 257.2 244.4 255.7 248.5 254.1 252.7 256.2 254.7 259.3 252.7 262.4 249.6 265.5 246.5 268.5 244.4 271.1 243.9 274.2 245.5 277.3 247.5 278.8 249.6 280.9 247 283.5 244.4 285.5 241.9M305 221.8 301.5 222.8 298.9 224.9 297.4 227.4 300.5 229 303.6 230.5 305 232.1M215 256.8 217.1 260.9 219.1 265 221.2 269.1 224.3 270.7 224.8 273.3 222.2 275.3 221.2 279.4 220.1 285M235.8 214.8 229 217 222.3 218.1 214.5 221.5 210 228.2 206.6 236.1 203.2 240.5 207.7 245 212.2 251.8 215.6 258.5 220.1 265.2 223.4 271.9 221.2 278.7 220.1 285.4 216.7 289.9 218.9 298.9 223.4 305.6 227.9 312.3 230.2 319 231.3 328 232.4 337 230.2 345.9 226.8 354.9 222.3 363.9 217.8 372.9M233.5 180 240.3 186.7 247 193.5 251.5 191.2 257.1 193.5 254.8 201.3 249.2 204.7 245.9 211.4M305 300.4 300.5 300.1 296.4 299.9 292.2 300.4 287.1 301.4 283 304 280.9 307.6 278.8 310.7 275.8 312.2 274.2 314.8 274.7 318.4 276.8 321.5 277.8 325.6 279.4 329.2 280.9 331.8M329.2 300.1 334.9 301.2 340.5 299 344.9 297.9 346.1 304.6 347.2 312.5 348.8 320.3 347.9 327 342.7 331.5 337.1 334.9 331.5 338.2 325.9 340.5 325.4 346.1 329.2 349.5 331.5 353.9 327 351.7 321.4 351.7 318 353.9M290 300.1 296.7 301.2 303.5 300.6 310.2 301.9 315.8 304.6 320.3 302.4 324.8 300.1 329.2 300.1M333.7 262 337.1 266.5 340.5 272.1 344.9 275.5 348.8 281.1 350.1 287.8 347.9 293.4 344.9 297.9M464.9 448.1 473.9 446.3 482.9 447 490 449.3M241.9 415.2 248.7 417.5 254.3 419.7 256.5 425.3 262.1 424.2 267.7 422 272.2 419.7M383.8 487.3 389.4 491.8 397.3 492.9 405.1 491.3 411.9 489.5 416.3 487.3 421.9 486.8 428.7 487.3 435.4 488.4 442.1 486.2 447.7 483.9 451.1 479.4 452.2 473.8 455.6 470.5 458.9 464.9 462.3 459.2 464.6 453.6 466.8 448 473.5 446.9 480.3 446.5 487 446.9 490.3 452.5M826.3 547.6 826.3 602.6 825 607 826.3 611.4 826.3 632M828.1 590 828.1 641M330.4 262 332 262.5 333.7 262M225 162.7 225.5 165.5 225 168"/><path d="M92.7 126.5 94.4 125 96 123.4 98.3 122.3 100.7 121.7 102.9 120.9 105.2 120 108.9 121.3" stroke-width="3.7"/><path d="M93.3 123.4 93.7 126.1 93 128.7 93.3 131.4 92.8 134 92.9 136.7 92.9 139.3 93.9 141.9 93.6 144.6 93.2 147 93.4 149.5 93.1 151.9 93.3 154.3 93 156.7" stroke-width="4"/><path d="M93 185.4 94.3 183.1 96 181.3 98.3 182.1 100.5 183 102.9 183 105 183.5 107.1 182 109.9 181.5 112.6 178.1 114.6 176.7 116.6 175 118.6 176.3 120.6 178 121.7 180.9 122.3 184 123.1 187 123.9 190 125.5 192.1 126.5 194.4 127.8 198" stroke-width="5.8"/><path d="M330.4 212.2 331.3 209.9 332.6 207.7 333.8 205.5 335.4 203.7 337.1 201.6 339.4 201.4 341.6 201 344.1 200.9 346.8 199.3 349.5 197.6 351.5 195.8 353.8 194.7 356 193.6 358.5 192.5 360.4 190.4 362.9 189.6 365.8 189.5 368.4 190.7 371.4 191.3 374.1 192.9 376.9 193.8 379.7 195 380.3 197.5 380.1 200.2 380.1 202.8 380.4 205.1 381.1 207.4 382.3 209.1 385.4 211.9 387.6 210.6 389.8 209.5 390.2 207.3 390.5 205 391.4 202.7 390.3 200.6 389.9 198.4 392.2 195.3 395 194.1 397.8 193.2 400 192.2 402.2 191.4 404.5 190.8 406.7 189.8 408.9 189 411.1 187.7 413.4 188.1 415.7 188 417.9 187.4 420.3 187.2 422.6 186.2 425 186" stroke-width="3.7"/><path d="M330.4 212.2 328.9 214.2 327.1 215.8 325.3 218.3 323.7 220.7 323.6 223 322.9 225.2 322.6 227.5 322.5 229.8 323 232 323.5 234.3 325.2 236.2 326.3 238.5 327.3 240.8 328.4 243.3 330.5 245.1 331.3 247.8 333.3 249.3 334.3 251.5 336.2 253.1 337.3 255.2 339 257 340.4 258.9 342.7 262" stroke-width="3.4"/><path d="M365.2 226.4 367.1 224.9 368.7 223 370.7 221.8 372.8 220.3 375.2 219.6 377.5 218.6 379.8 218 381.9 216.9 384.3 217.2 386.5 216.8 388.7 216.1 390.9 216.2 393.8 216.1 396.1 216.9 397.9 220.6 397.2 223.2 395.6 225.3 393.7 228 392 230.8 391 233.7 389.4 236 387.3 238.4 385.4 241 382.4 242.4 379.7 244.8 377.6 243.5 375.3 243.3 373.3 242.7 370.3 241.4 367.4 239.8 366.3 237.6 365.4 235.3 364.7 233.1 365 230.9 364.7 228.6Z" stroke-width="3.4"/><path d="M384.2 163.6 386.5 163 388.7 162.4 390.9 163.2 393.1 163.5 395.4 163.5 397.7 164 399.9 164.7 402.3 164.2 404.5 165.2 406.6 166.2 409 166.4 411.1 167.7 413.3 168.1 415.6 168.3 417.9 168.3 420.1 169.1 422.6 168.7 425 170.3" stroke-width="3.4"/><path d="M285.5 241.9 289.1 239.9 293 241.3 295.1 242.2 297 243.2 299 244.6 300.8 246.3 301.2 248.7 302.8 250.4 305 253.7" stroke-width="3.4"/><path d="M240.2 281.3 245.4 280.7" stroke-width="2.3"/><path d="M425 188.2 428 187.5 430.4 185.7 433.2 184 436.3 182.9 438.4 182 440.8 182.3 442.8 181.2 445 180.1 447.2 178.8 449.8 178.4 451.8 177 454.3 177.1 456.4 176 458.5 174.7 460.9 174.5 463 173.4 465.6 172.9 467.4 170.9 469.9 170.3 472.8 168.8 475.2 166.4 478.5 165.7 481.3 164 483.7 161.6 486.8 160.3 489.2 158.9 491 156.7 493.7 154.9 495.3 152 497.5 149.7 500.1 147.8 501.8 146.1 503.5 144.4 506 143.6 507.5 141.4 509.2 139.4 511.2 137.7 512.6 135.4 514.6 133.5 515.9 131.1 517 128.8 518.3 126.7 519.7 124.4 520.2 121.8 520.5 119 521.3 116.4 522.9 114.4 524 112.1 524.6 109.6 525.9 107.5 527.3 105.6 528.9 103.8 530.3 101.8 531.9 100 532.8 97.7 534.5 95.9 536.4 94.3 537.5 91.8 538.7 89.3 540.6 87.4 541.8 84.9 543.6 82.9 545.4 80.8 546.5 78.4 548 76.1 549.8 74.1 551.6 71.6 552.8 68.7" stroke-width="4.6"/><path d="M425 171.4 426.5 173.8 428 176 429 178.1 429.8 180.4 430.8 182.8 432.2 180.3 433.8 178.1 434.3 175.9 434.6 173.6 434.9 171.5 432.8 168" stroke-width="4"/><path d="M547.8 135.3 551.5 136.3 553.4 137.4 555.1 138.9 554.9 141.5 554 144.1 554.4 146.9 553.6 149.5 551.9 151.8 552 154.7 550.7 157.1 550.2 159.8 549.3 162.3 548.5 165.1 546.9 167.5 546 170.2 544.6 172.4 543.5 174.6 542.6 177 541.5 179.1 540.8 181.4 540.7 183.9 539.2 185.8 536.7 188.4 535.7 186.1 534.5 183.9 533.4 181 532.4 178 531 176 530.2 173.7 528.9 171.4 528.8 169.2 528.5 166.9 528.3 164.6 528.9 162.3 530.2 160.3 530 157.7 531.9 155.9 532.9 153.6 534 151.3 535.3 149.2 536 146.7 537.3 144.6 538.4 142.5 540.4 141 541.6 138.9 543.5 137.3 545.7 136.2Z" stroke-width="3.4"/><path d="M121.4 180 121.7 182.4 122.6 184.6 123.5 186.8 124.5 189.1 125.8 191.3 126.7 193.6 128.7 196.3 130.3 199.1 132.1 200.7 133.2 202.9 135 204.6 136.3 206.6 138.1 208.2 139.7 209.9 140.9 212.5 142.9 214.2 144.7 216.1 146.9 217.4 147.7 219.8 149.9 221.3 150 223.8 150.9 226 151.6 228.2 152.6 230.4 153.1 232.7 153.7 235.1 156 237.5 157.2 240.6 158.5 242.7 159.6 245 160.7 247.3 160.7 250 161.9 252.5 162.6 255.2 161.7 257.7 162 260.4 161.2 263 161.1 265.3 160.4 267.5 159 269.6 158.8 272.5 158.2 275.7 160.5 276.7 162.9 277.5 165.7 278.3 168.5 278.8 171.3 278.3 174.4 279.1 176.2 276.7 178.5 275.3 181 273.2 183.3 271 185.4 268.7 187.4 266.1 190 264.3 192 261.8 193.5 259.4 195.1 257.6 192.8 254.4 195.4 255.5 197.1 257.5 199 259.5 200 262.7 202 265.3 203 267.4 203.7 269.7 204 272.1 204.6 274.4 205.7 276.5 207 278.5 207.1 281.4 207.6 284 208.5 286.6 209.8 289.1 210.5 291.7 210.6 294.5 212.1 296.9 212.3 299.7 213.8 302.1 214.4 304.8 214.6 307.5 215.9 309.9 216.3 312.5 218.1 314.4 218.9 316.8 220.2 319.3 220.1 322.1 221.6 324.6 222 327.2 222 329.9 221.9 332.5 222.2 334.7 222.5 337 222.4 339.2 222.4 341.4 222.2 343.7 221.5 345.9 222 348.3 221.2 350.4 220.1 352.6 220.5 355 219.9 357.3 218.5 359.2 218 361.6 217.3 363.9 216.3 366.1 215.3 368.3 214.8 371.1 213.8 373.7 212.2 376" stroke-width="3.9"/><path d="M239.7 315.8 242.7 312.8 246.9 312.1 250.4 313 253.2 313.8 253.7 316.1 254.5 318.4 254.2 321 254 323.4 254.7 325.7 258.2 326.2 262.4 325.8 265.7 326.3 268.6 328.6 271.6 331.9 274.9 334.2 277 336.8 278.3 338.7 278.7 341.2 281.7 344.3 283.5 346.2 285.1 348.2 286 350.4 287.4 352.2 287.8 354.6 289 356.6 291.7 360" stroke-width="3.4"/><path d="M239.7 315.8 240.5 318.1 240.5 320.4 240.1 323 240.1 325.6 240.1 328.7 240.4 331.8 240 334.4 239.6 337.1 238.6 339.7 237.4 342.2 236.4 344.8 235.5 347.4 234.4 349.8 233.4 352.4 233.5 355 233.1 357.5 232.5 360" stroke-width="3.4"/><path d="M293.5 317.6 296.2 317.7 298.3 318.8 299.9 320.6 301.8 321.9 303.7 323.5 305.7 326.5 304.5 328.4 301.1 326.3 299.2 324.9 297.7 323.2 294.6 321Z" stroke-width="2.5"/><path d="M346.1 262 348.4 264.2 350.3 266.7 352.9 268.6 355 271 357.1 273.3 359.1 275.8 361.1 277.3 362.5 279.2 364.2 280.9 365.9 283.7 367.5 286.6 368.1 289 369.4 291.1 370.8 293.2 370.7 296.1 371.5 298.7 372.8 301.2 373.4 303.8 373.1 306.6 374 309.1 374.4 311.3 374.8 313.6 374.8 315.8 375.7 318.1 375.2 320.7 374.7 323.3 374.7 325.9 373.7 328.4 373.5 331.1 373.4 334 371.7 336 370.7 338.2 369.9 340.7 368 342.3 366.5 344.1 365.4 346.5 363.3 347.7 361.1 348.7 359.5 350.6 356.5 352 353.7 353.5 351 354.9 348.5 356.6 345.7 357.7 342.6 358 340.6 359.4 337.7 359.6 337.4 357 337.4 354.3 336.7 351.7 337.1 354 336.6 356.2 336.3 358.4 335.8 360.6 335 363 334 365.5 331.4 366.8 329.4 368.8 326.7 370.6 323.4 371.6 321.3 373.4 319.2 375.3 317.6 377.6 315.8 379.7 314.3 382.1 312.4 384.4 309.6 384.2 308.5 381.4 308.5 378.6 308.7 376.3 309.5 374.2 309.8 371.9 310.6 369.1 311.3 366.3" stroke-width="3.7"/><path d="M290 349.9 292 351.4 294.2 352.1 293.6 355.1 292.9 357.6 294.5 359.7 296.8 360.6 298.2 362.6 300 364.6 302.9 364.6 305.7 365.3 308.4 366.1 311.3 366.3" stroke-width="3.7"/><path d="M310.2 262 310.6 264.2 310.4 266.6 311.4 268.6 312.9 271.2 314.7 273.5 317 275.4 318.5 277.6 319.7 280.1 321.8 282.1 321.4 284.6 322.5 286.7 323.5 288.8 323.7 291.1 324.2 293.4 324.7 295.6 324.1 297.9 324.6 300.1 324.7 302.4 325.4 304.6 325.1 306.9 325.8 309.1 326.3 311.3 326.1 313.6 327 315.8 326.8 318 326.2 320.2 326.7 322.6 326 324.8 325.7 326.7 323.6 328.5 321.4 330.1 319.1 331.5 316.3 332.7 313.9 334.3 313.2 337.4 312.8 340.4 312.3 342.8 313.1 345 313.2 347.2 313.3 349.6 315.1 351.5 315.9 353.9 317.2 355.8 319.2 358 321.2 360.2 323.5 362.1 325.7 363.3 328.4 363.6 330.4 365.1 332.5 366.6 334.9 367.4" stroke-width="3.4"/><path d="M293.4 318.6 296.8 317.5 299.1 319.7 301.6 321.7 302.9 323.6 304 325.6 305.3 327.2 307.1 329.4 307.9 332.5 305 332.3 302.5 330.2 300.4 327.9 298 325.7 295.4 323.8 294.5 320.9Z" stroke-width="2.3"/><path d="M356.3 448.8 358.7 450.1 360.5 453.6 358.3 457 355.6 455.3 354.5 452.1Z" stroke-width="2.8"/><path d="M490 405.5 488.8 407.4 486.8 408.6 484.8 409.8 483.8 412 481.8 413.5 480.4 415.4 478.7 418.2 476.2 420.2 473.6 422 471.7 424.6 469.6 427.1 467.5 429.5 465.6 430.9 463.6 432.3 461.4 433.4 459.6 435 457.5 436.2 456.1 438.4 452.9 439.3 450.5 441.7 447.7 443 444.9 443.8 442.4 445.8 440.1 448 438.8 450 437.2 451.8 435.4 453.4 433.6 456 431.3 458" stroke-width="3.7"/><path d="M444.7 443.6 445.6 446.6 447.3 449.7 449.3 447.9 451.8 446.6 453.6 444.2 454.8 441.4" stroke-width="2.3"/><path d="M534.5 238.4 536.6 237.7 538.6 237 541.2 237 543.6 238 546.3 238.3 548.7 239.4 551.2 240.4 553.7 240.5 558.4 239.9 559.8 243.5 559 246 558.5 248.3 558.8 251 559.8 253.5 561.4 255.8 562.7 258.6 562.3 261.1 562.8 263.7 561.9 266.3 560.8 268.8 559.7 271 558 272.9 556.1 274.5 553.6 275.2 552.3 277.3 550.6 278.9 549 281.2 547.5 283.9 548 286.4 549.2 288.6 550.3 290.8 551.3 293.1" stroke-width="3.4"/><path d="M534.5 238.4 533.8 240.6 533.1 242.8 532.9 245.1 532.1 247.3 532.4 249.6 531.8 251.8 531.3 254.1 531.8 256.4 531.5 258.6 531 260.9 530.7 263.1 530.8 265.5 529.4 267.8 528.6 270.5 526.7 271.7 524.8 272.2 522.6 275.5 523.8 277.4 524.7 279.4 525.9 281.6 527.4 283.8 527.3 286.8 528.1 289.5 528.8 292.4 530.4 294.5 533.5 297.1 536.1 294.9 538.1 296 540 296.4 539.9 301 537.2 303.9 539.6 307.2 543.8 308.2 545 304.9 545.7 307.8 546.2 310.6 544.3 311.9 541.9 312.7 539.6 311.5 537.2 310.2 534.4 310.3 532 309.2 527.8 309.9" stroke-width="3.4"/><path d="M551.3 293.1 553.2 294.7 555.4 295.8 557.9 297.4 560.5 299.1 563.5 299.7 566.5 300.6 568.3 302.7 570.7 304 573.1 305.5 575.7 306.5 578.2 306.7 580.8 307.9 583.3 307.3 586.1 306.2 588.3 309.1 587.2 312.9 584.1 310.7 580.8 312.4 579.1 315.8 581 317.2 582.6 319 584.4 321 585.8 323.3" stroke-width="3.4"/><path d="M527.6 310.1 529.9 311.1 531.9 312.3 534 313.8 534.9 316.6 537.1 318.5 538.5 320.9 540.1 322.7 541.1 324.9 541.9 327.1 542.7 329.3 544.1 331.9 545.2 334.5 546.9 336.5 545.4 337.8 544.1 335.7 542.6 333.8 541.2 331.7 540.1 329.3 538.7 326.9 537.8 324.2 535.9 322.1 534.6 319.6 532.7 317.5 530.7 315 528.7 312.7Z" stroke-width="3"/><path d="M555.4 332.4 557.3 331 559.8 329.9 560.8 332.3 562.8 333.6 565.6 335.2 568.5 336.3 570.7 338.4 572.8 340.4 572.3 343.3 572.4 346.5 570.6 348.2 570 350.6 568.2 352.8 567.7 355.3 564.5 358.1 562.3 357.4 560.4 356.6 557.8 357.4 555.2 358.1 554.1 356 553.7 353.9 554.2 351.2 554.9 348.7 556 345.9 555.6 343 555.6 339.9 555.2 337 555.5 334.5Z" stroke-width="3.4"/><path d="M566.1 366.4 568.5 365.6 570.5 364 572.5 361.4 574.1 358.6 576.3 356.6 577.3 353.5 580.1 355.4 579.8 358.5 578.7 361.4 578 364.4 576.7 367.2 576.3 369.8 575.4 372.3 577 374.2 577.8 376 573.8 377.7 569.1 378.4 568.2 376.2 567 374 566.2 371.9 564.9 369.7Z" stroke-width="3.4"/><path d="M580.8 350.2 582 353.1 584 355.4 584.4 357.9 585.7 359.9 585.9 362.4 587.1 364.8 587.6 367.2 587.4 370.5 585.5 368.5 583.5 366.6 582.8 363.4 581.6 360.5 580.5 358.4 580 356.1 579.2 353.7Z" stroke-width="2.8"/><path d="M586.6 367.2 588.9 364.3 593.4 364.9 595.2 367.2 593.1 369.4 588.9 369.6Z" stroke-width="2.8"/><path d="M592.2 342 594.5 343.1 596.1 344.7 597.3 347.7 599.5 350.4 599.8 352.6 599.3 355 600.3 357.1 600.8 359.3 600.5 361.8 601.9 364 600.7 366.4 600.4 369.2 598.5 365.5 597.4 363.4 596.6 361.2 596.5 358.8 595.9 356.6 595.6 354.3 594.5 352.3 593.4 349.7 592.6 347.1 592.4 344.6Z" stroke-width="3.2"/><path d="M589.6 323.8 592.7 324.2 595.7 325.1 598 326.8 601 327.4 602.1 330 603.7 332 604.9 334.1 604.9 336.5 605.5 338.7 605.6 341 606 343.2 606.9 345.3 607.5 347.6 607.2 350 608.2 352.2 604.7 353.9 602.7 352.2 600.4 350.6 599.1 347.8 597.6 345.2 594.9 343.1 593.4 340.1 591.5 337.8 589.3 335.4 588.9 332.4 588.4 329.5 588.7 326.4Z" stroke-width="3.4"/><path d="M572.3 316.3 574.1 318.2 576.3 319.5 579.1 319.8 580.6 321.7 582.3 323.4 583.8 325.2 582.5 327.2 580.4 328.6 578.2 326.5 575.7 324.9 573.4 323 571.3 321Z" stroke-width="3"/><path d="M546.8 300 549.1 301 551.3 302.2 553.4 303.7 555.8 304.2 558 305.1 560.3 306 562.5 305.7 564.8 305.9 567 304.9 569.3 305 571.5 304.4 573.7 304.3 576.1 305.7 578.6 306.3 581.3 305.8 583.8 305.3 587.6 306 588.5 308.4 588.6 310.7 586.1 314.7 584.2 313.1 582.1 311.7 579.8 312.6 577.5 314.5 578.4 317 579.5 319.4 581.7 321.4 584.1 323.3 586.2 325.4 588 327.8" stroke-width="3.4"/><path d="M562.8 394.2 564.2 391.9 566.1 390 569.3 387.1 571.8 386 573.7 384 577.2 383.1 580.2 386 581.8 387.8 583.6 388.6 585.9 388.2 587.8 387.3 590.2 383.8 592.7 380.6 594.2 376.9 597.4 379.5 599.8 378.9 602.6 378.6 604.1 376.2 606.1 374.6 607.6 372.6 609.5 370.3 611.4 374 611.7 376.4 612.8 378.5 613 380.8 614.2 382.9 615.2 385.1 615.5 387.6 616.5 389.7 617.4 392 618.6 394.1 619.2 396.4 619.8 398.7 620.2 400.9 620.5 403.5 619.6 405.7 619.1 408.3 617.5 410.2 615.8 412.9 615 416 614.1 413.5 613.1 411.1 612.1 408.5 610.5 405.7 607.1 408.4 606 410.5 605.2 412.6 605.1 414.9 605.6 417.2 605.2 419.3 605.1 422.4 603.8 425.3 603.8 427.9 603.1 430.4 600.2 427.3 598.5 425.2 597.5 422.4 595.1 421.9 592.9 421.1 591 419.8 588.7 419.2 587 417.3 585.2 415.3 585.1 412.1 584.2 409.4 584.4 406.4 584.9 403.4 586.4 401.1 586.4 398.7 585.3 396.5 584.1 394.9 582.3 396.2 580.5 397.7 578.5 398.9 576.2 399.9 573.8 399 571.1 399 569.2 400.1 567.2 400.8 565.3 402 564 403.7 562.4 405.6 561 407.5 559.3 409.2 557.7 410.9 555.4 412.4 553.7 414.7 550.5 416.2 551.5 412.5 553.8 410.3 555.5 407.8 556.5 405.1 557.8 402.6 559.1 400.1 560.6 397.8Z" stroke-width="3.4"/><path d="M215 376 214.8 378.3 215.4 380.5 216.1 382.7 216.4 384.9 216.9 387.4 218.7 389.3 219.3 392 221.3 393.6 223.1 395.6 224.9 397.6 227 398.8 228.6 400.7 230.8 401.7 232.5 404.2 234.5 406.2 235.9 408.6 237.1 411.1 237.9 413.7 239.1 416.3 239.5 418.5 239.2 420.9 240.1 423 240.7 425.6 240.9 428.4 242.1 430.9 243 433.6 244.1 436.2 244.9 439 246 441.3 247.8 443.2 248.3 445.7 249.6 447.9 251.2 449.8 251.8 452.4 253.5 454 254.4 456.1 255.7 458 256.9 459.8 258.3 462.1 259.5 464.6 261.4 466.5 262.3 469.2 264 471.3 265.9 473.3 267 475.4 268.3 477.4 269.6 479.5 271.9 481 273.5 483.1 275.5 484.9 277.6 486.1 279.4 487.7 281.1 489.3 283 490.8 285 492.2 286.6 494 288.8 495.6 291.3 496.7 293.5 498.2 296.5 499.5 299.2 501.5 302.1 503 305.1 504.6 306.3 506.7 308.1 508.3" stroke-width="3.7"/><path d="M238.6 376 239.1 378.2 239.6 380.5 240.7 382.6 241.1 384.9 241.8 387.5 242.8 390.1 243.5 392.6 244 395.5 245.6 397.9 246.5 400.6 248 402.8 250.2 404.3 252.2 406 254.7 407.4 257.4 408.3 260.1 409.3 262 411.4 264.6 412.3 266.2 414.5 268.4 416 270.6 417.6 272.2 419.8 274.4 421.3 276.8 422.6 279.2 423.8 280.9 425.6 282.6 427.3 284.3 428.8 285.8 431 287.5 433 288.2 435.5 289.3 438 290.3 440.6 291.1 443.2 290.7 445.6 290.9 447.8 291.9 450 291.8 452.2 292 454.5 292.6 456.7 293 458.9 293.2 461.2 293.5 463.5 294.3 465.7 295 468 295.3 470.4 296.6 472.9 297.7 475.6 299.3 478 300.6 480.5 301.4 483.3 302.6 485.9 302.6 488.2 303.7 490.4 303.8 492.7 305.3 494.7 305 497.2 306.3 499.3 306.3 501.6 306.6 503.8 307 506.1" stroke-width="3.4"/><path d="M172.4 426.5 175.2 427.1 177.8 428.4 180.4 429.6 183 430.6 185.7 431.6 188.1 433.1 190.7 434 193.3 434.7 196 434.4 198.6 434.9 201.2 434.2 204.1 434.5 205.4 436.8 207.4 438.3 209.6 439.8 210.5 442.4 212.7 444.2 214.2 446.2 215.6 448.4 217.7 449.6 219.6 451.1 221.1 452.9 223 454.4 225.4 455.3 226.8 457.3 229 458.4 230.4 460.4 232.9 461.6 234.3 464 236.2 465.9 238 467.5 239.8 469.1 241.6 470.5 244.5 472.1 246.5 474.6 248 476.6 249.9 478 252.2 478.6 254.7 480.7 257.7 481.3 260.3 482.9 263.3 483.6 265.7 485 268.1 486.8 269.6 488.6 270.7 490.8 272.4 492.5 273.8 494.4 275.2 496.4 276.7 498.2 279.5 499.9 282.2 501.8 285.1 503.2 288.1 504.8 289.3 507.4 290.8 509.3 291.1 512.3 290.5 514.8 291.6 518 293.3 521 296.5 522 298.9 524.2 301.4 526.2 303.6 528.5 305.4 531.3 307.2 534.1 306.8 536.4 307.8 538.6 308.1 540.9 310.4 539.2 312.4 537.3 314.8 535.2 317 532.9 319.7 531.4 323 530.4 325 532.9 326.7 535.4 327.7 537.5 328.7 539.7 329.5 541.9 331.4 543.3 333.2 544.9 335 546.4 338.1 547.7 340.7 550 343.4 549.1 346.2 548.6 347.9 547.1 350 546.4" stroke-width="3.7"/><path d="M172.4 426.5 173.3 429 173.5 431.6 173.8 434.2 175 436.1 176.2 438 177 440.2 177.8 442.4 179.4 444.1 181.7 445.2 183 447.3 185.1 448.5 187.3 450.4 189 453 191.4 454.6 193.3 456 194.5 458.2 196.8 459.3 198.6 460.9 199.8 463.7 202 465.6 203.9 467.9 205 470.4 206.5 472.6 208.5 474.3 210.4 476.4 212.9 477.5 214.7 479.5 217.2 480.7 218.6 483.1 220.5 484.9 221.4 486.9 222.5 488.9 223.6 490.9 225.5 492.5 226 495.2 226.1 498 227 500.8 229.3 502 230 504.5 231.9 506 233.5 507.9 235.6 509 237.8 510.3 239.3 512.6 240.9 514.8 241.9 517.3 243.2 519.2 244.3 521.1 245.2 523.2 246.4 525.1 247.6 527.1 248.5 529.2 249.8 531 251.1 532.9 251.7 535.2 252.8 537.1 254.6 538.7 255.7 540.6 257 543.3 258.8 545.6 261.4 547.3 262.3 550 264 552 265.5 554.3 267.4 556.5 269.4 558.6 270.7 561.4 273 562.9 274.8 564.8 276.6 566.7 278.7 568.3 280.5 570.2 282.3 572" stroke-width="3.7"/><path d="M200.5 486.9 203.3 487.1 206.2 488.1 207.8 490.2 209.1 492.6 210.1 494.8 210.5 497.2 209.2 499.8 207.3 497.9 204.7 497.3 203.4 494.2 202 491.4 201.3 489.2Z" stroke-width="2.8"/><path d="M221.8 523.2 224.1 522.7 226.7 521.6 226.9 524.2 228.7 526.2 229.5 528.5 229.5 531.4 228.5 534 225.1 533 224 530 222.2 527.4 221.6 525.2Z" stroke-width="2.8"/><path d="M473.5 420 471.6 421.9 470.9 424.7 469.3 427 466.9 427.9 465.3 429.8 463.1 430.8 461.6 432.7 460 434.6 457.7 435.5 455.2 437.7 452.2 438.9 449.5 440.3 446.6 441.3 443.9 442.6 441.3 443.7 439 445.6 437.8 448.1 435.9 449.7 434.3 451.5 433.4 453.9 431.6 455.5 430.3 457.5 428.6 459.2 426.4 461.4 424.2 463.7 421.4 464.8 418.7 466.3 416.2 466.4 414.2 467.9 412 468.6 409 469.3 406.5 470.6 404.7 472.8 402.5 474.9 401.9 477.7 402 480.9 399.8 482.6 397.1 483.6 395.1 485.2 392.8 486 390.1 485.2 387.3 484.8 385.1 483.6 382.6 482.9 380.6 481.5 378.2 480.6 375.9 481.6 373.5 482.6 372.5 485.4 370 487.1 369.6 489.5 368.5 491.6 368.6 494.1 367.5 496.2 367.2 498.5 366.6 500.9 368.1 502.8 368.7 505.1 369.2 507.5 370.2 509.6 371.1 511.8 371.2 514.3 372 516.5 373.2 518.6 373.9 520.7 375.9 523.2 378.6 525.1 379.7 527.3 381.5 528.9 382.2 531.1 382.6 533.3 383.6 535.5 384.3 537.6 384.3 540.1 385.6 542.1 386.3 544.2 388 547.1 390.7 548.5 392.7 549.8 395 550.5 397.3 550.8 399.5 551.4 401.7 552.4 403.8 552.8 406.9 553.3 409.3 554.7 411.7 557.7 414.3 556.5 416.3 554.4 419.2 553.5 422 552.6 424.7 551.6 427.4 551.5 430.5 552 433.2 553.2 435.5 553.4 437.7 553.8 439.8 554.8 442.6 555.9 445.2 557 447.6 558.7 449.1 561.2 450.1 564 451 566.7 453.8 565.5 456.8 564.9 459.7 563.9 462.2 562.2 464.9 560.8 468.1 560 469.6 561.9 471.1 563.5 472.1 561.3 473.1 559.2 473.6 556.8 473.3 554.4 472.1 552.3 471.2 550.1 472.1 547.9 472.4 545.5 473.1 543.3 473.8 541.1 474 538.9 474 536.8 474.5 534.4 474.6 532 475.9 530.1 477.8 527.5 480.2 525.4 483.1 523.8 485.9 522.1 487.3 519.1 489.1 516.4 489.5 514 491 512 491.2 509.6 492.3 507.5 493.3 505.3 493.3 502.9 494.7 500.8 495 498.4 496 496.5 498.8 495.9 501.5 495.4 503.8 495.3 506 496 508 496 510.4 494.1 508.9 492.3 507.8 490.1 506.3 488.2 504.3 486.8 503.4 484.4 501.3 483.1 499 480.8 497.1 478.3 496.4 475.3 495.2 472.6 494 470.5 493.5 468.2 492.6 466 491.2 463.5 489.3 461.4 487.9 459.3 486.8 456.9 488.7 454.8 490.2 452.5 491 449.7 491.4 446.8 493.3 445.4 494.9 443.6 497.1 442.4 499.1 440.9 501.4 440 503.8 439 506 438 508.4 437.9 510.6 437 512.8 435.2 515.4 433.3 513.5 431.4 512.6 429.3 510.1 427 507.3 425.4 504.6 424.3 502.9 421.9 500.4 421.2 498.2 420" stroke-width="3.4"/><path d="M444.4 442.4 445.2 445.4 446.5 448.4 448.9 448.4 450.9 449.1 452.1 446.3 453.3 443.5" stroke-width="2.3"/><path d="M455.6 441.3 457.8 445.8" stroke-width="2.3"/><path d="M350.3 547 352.9 545.8 355.8 545.1 357.6 547 359.3 549 358 551.2 356.9 553.1 354.6 553.3 352.4 554.2 349.7 551.2 349.8 548.9Z" stroke-width="2.8"/><path d="M329.8 542.4 332.2 543.9 334.5 545.6 336.2 547.8 338.1 550.4 334.6 552 332.4 550.8 329.8 550.1 330.3 547.5 329.5 544.8Z" stroke-width="2.8"/><path d="M523.3 509.6 524 507.4 524.7 505.2 524.9 502.9 525.7 500.7 527.2 498.4 529 496.4 530.4 494.3 532.5 493.3 533.9 491.3 536.4 491 538.1 489.7 540.3 490.2 542.6 490.4 544.9 490.4 547 491.7 549.4 491.2 551.6 491.8 553.8 492.9 556.1 492.9 558.3 493.2 560.5 493.9 562.7 494.1 565 494.4 567.3 494.6 569.5 494.6 571.7 494.8 574.1 494.7 576.5 493.4 579.2 493.3 581.7 492.5 583.9 491.5 586.6 491.1 588.6 489.5 590.5 488.1 592 486.2 594.3 485.3 596.8 483.5 600.2 482.5 601.8 486 600.5 488.5 598.5 490.5 597.5 492.8 595.3 494 594.5 496.6 592.2 497.6 590.6 499.4 588.6 501 586.1 501.9 583.5 502.7 580.7 503.3 578.5 502.5 576.3 502.1 574 502.2 571.7 502.4 569.6 501.1 567.3 501.5 565 501.3 562.8 500.6 560.5 500.7 558.3 500.4 556 500.9 553.8 500.1 551.5 500.6 549.4 499.6 547.1 499.7 544.9 499.1 542.3 498.8 539.7 498.5 537 498.4 534 499.9 530.9 501.7 530.6 504.1 530 506.4 528.7 508.7 530.3 511.1 530.7 513.8 531.1 516.7 533.2 518 534.6 520 535.9 522.4 538.1 521.3 540.4 521.5 542.4 520.7 544.4 519.4 546.6 518.2 548 516.2 550.3 514 552.8 512.3 555.5 511.3 558.2 511 561.2 512.4 563.6 514.5 566.4 516.2 568.3 518.2 571.2 518.2 574.3 517.5 574.7 519.7 574.5 522.1 574.8 523.9 573.5 526 571.8 527.6 569.4 526.7 567 525.7 565.7 523.6 563.8 521.9 562 523.4 560.4 525.3 558.2 526.4 556.6 528.2 554.4 529.3 552.7 531.1 549.9 532.7 547 534.5 544.7 533.6 542.2 532.5 544.1 534 545.5 536 547.2 537.6 548.9 539.4 550.5 541.1 551.9 543.1 552.7 545.9 554.7 547.7 555.7 550.2 556.8 552.5 557.9 554.8 559 557 560.4 559.1 561.3 561.5 562.9 563.5 564.9 565.9 567.4 568.4 569.6 567.7 572.1 566.8 571.8 569.6 572.9 572.1 572.5 574.6 572.1 577 571 579.1 570.9 581.2 572.1 583.4 573.9 584.7 571.6 586.3 569.6 588 566.8 587.4 563.7 586.8 561.9 589 559.2 590.7 557.1 588.2 555.3 585.9 554.1 583.4 554.2 580.7 553.7 578.1 556 575.6 557.3 572.4 555 570.8 552.3 569.4 551 567.4 549.5 565.5 547.9 563.8 546.7 561.3 544.8 559.3 544 556.6 541.8 555.2 541 552.9 539.2 551.2 537.3 549.8 536.1 548.3 533.4 548.5 531.7 550.1 530.9 552.3 530.8 554.6 529.8 556.9 530.7 559 530.6 561.3 531.3 563.5 531.1 565.8 531.5 568 531.5 570.3 532.3 572.5 532.5 574.7 532.3 577 531.5 579.2 531.5 581.4 531.1 583.6 530.6 586.7 529.1 589.6 526.4 588.5 523.6 588.2 520.6 588.1 518.2 587 517.3 584.9 517.5 582.5 517.1 580.4 517.2 578 518.1 575.8 519.2 573.7 519.5 570.9 520.6 568.4 521.4 565.7 520.5 562.8 519.2 559.9 516.4 558.7 513.3 558 511.5 555.3 510.3 552.3 509.7 549.5 508.6 546.4 510.1 544.6 511.8 542.9 513.4 541.1 515 539.1 515.4 536.5 516.8 534.4 517.5 531.8 517.8 529.2 517.8 526.5 519 523.9 520.2 521.3 521 518.6 521.8 516.4 522.1 514.1 523.3 512Z" stroke-width="3.4"/><path d="M588.6 534.8 591.3 534.6 593.8 533.8 596.3 533.8 598.7 533.4 601 533.7 603.3 533.9 605.4 535.1 607.6 535 609.9 535.2 612.1 535 614.4 535.2 616.6 535 618.9 534.8" stroke-width="3.9"/><path d="M611.5 534.8 611.5 543.3" stroke-width="3.4"/><path d="M613.4 555 615.9 553 618.9 551.8 621.2 552.2 623.4 552.8 625.6 553.4 628.1 555.4 629.9 557.9 629.7 560.2 629 562.6 626.6 562.2 624.4 562.9 622.1 563.9 620.1 562.3 617.8 561.7 615.8 561.1 614 559.1 612.2 557.3Z" stroke-width="3.2"/><path d="M634.5 555.6 636.9 554.4 639.1 552.7 641.3 551.1 643.6 550.9 645.8 550.3 647.9 549.2 650.2 548.6 652.5 548.6 654.8 549.1 657 548.3 659.3 547.9 661.4 549.2 663.6 549.5 666 549.5 668.4 549.7 670.3 551.5 672.8 552.1 675.1 553.3 677.1 554.6 678.7 556.4 680.2 558 680.7 560.2 681.6 562.7 679.5 561.3 677.1 561 675.1 559.9 672.8 558.7 670.5 557.8 668.3 556.5 665.5 556.3 662.9 555.5 660.4 555 657.7 555 655.2 555.7 652.5 555.7 650.5 557.5 648.1 558.9 645.7 559.7 643 560.7 640.1 561.5 637.7 560.6 635.5 559.1Z" stroke-width="3.4"/><path d="M632.3 509.7 632.1 507.4 632.3 505.1 633 503 633.8 500.8 633.8 498.5 633.6 496.2 634.7 494.1 634.2 491.7 634.6 489.5 635.5 487.3 635.2 485 635.5 482.7 637.4 480.7 639.1 478.6 640.4 476.4 642.4 475 644 473.2 645.8 471.6 648 472.1 650.2 472.7 648.7 475.3 648 478.3 645.4 480.3 642.2 481.5 640.3 484.2 639 487.3 641.3 487.7 643.5 487.1 646.4 487.2 649.4 486.2 648.9 489 648.2 492.1 645.2 493.5 642.6 495.5 640.2 496.4 637.9 497.4 639.6 499.6 641.3 501.9 643.5 502.4 645.8 502.2 647.9 503.1 650.4 503.8 652.6 505.7 650.1 505.2 648 506 645.8 506.8 643.5 506.3 641.2 506.2 640 508.4 638 509.7 639 511.8 639.1 514.3 640.4 516.2 641.8 518.1 644.1 519.2 645.9 520.9 647 524.1 644.2 522.8 641 522.5 638.5 520.3 635.5 519 633.5 517.4 631.4 516.3 629.8 514.3 628.9 511.9 632.3 509.7" stroke-width="3.4"/><path d="M631.3 528 633.9 526.6 636.6 526.7 638.4 528.3 640.7 529.3 642.3 530.8 639.7 532.9 636.7 534.6 634.5 533.3 632.6 532 631.6 529.9Z" stroke-width="3"/><path d="M579.6 584.8 584.1 593.8" stroke-width="3.4"/><path d="M588.6 420 591.3 421.3 594.2 422.4 596.4 422.7 598.7 423 600.6 423.5 602.5 426.2 603.9 428.8 605.5 426.9 605.4 424.4 606.3 422.2 607.6 420" stroke-width="3.4"/><path d="M533.6 590.4 533.5 592.8 534 595 535.1 597.2 534.7 599.5 533.6 601.6" stroke-width="3.4"/><path d="M535.9 608.4 537.2 610.9 539.4 612.6 541.7 613.6 543.7 615.1" stroke-width="3.4"/><path d="M675.1 511.4 677.6 510.9 680 511.2 682.4 511.7 684.8 511.7 687.2 511.4 685.7 513.7 684 515.7 686.1 516.7 688.3 517.2 690.5 517.8 693.1 517.4 695.3 516.1 697.8 515.5 700.1 514.3 702.7 513.1 704.8 514.1 707 514.6 709.3 514.7 711.4 515.8 713.6 516.2 715.8 516.7 718.1 517.8 720.6 518.4 723.2 518.4 725.3 520 727.6 520.3 727.9 522.5 729.5 524.5 729.8 526.8 729.5 529.3 729.7 531.9 728.5 534.7 729.7 536.8 731.2 538.8 732.7 540.9 733.3 543.3 734.9 545.2 735.3 547.8 737.6 550.2 739.1 552.7 740.8 554.7 743.4 555.7 745.9 554.1 748.6 553 750.6 551.1 751.9 548.6 753.3 546.2 755.3 544.3 757.7 543 759.7 540.8 762 540.5 764.1 539.5 766.3 538.8 769.2 538.1 772.2 536.9 773.9 533.2 776.5 532.1 778.4 530.5 781.1 530.6 783.7 530.4 786.5 531.1 789 532.2 791.5 533.4 794 534.9 796.6 535.7 799.2 536.8 801.7 538.1 804.4 538.9 807.1 539.6 809.4 541 812 541.8 814.8 541.9 816.6 543.6 819.1 543.9 821.2 545.3 823.8 545.3 826.4 545.9 828.9 546.5 831.3 546.6 833.7 546.8 836 547.6" stroke-width="3.4"/><path d="M675.1 511.4 675.6 515.6 676.2 517.9 676.5 520.3 677.3 522.5 678.4 524.6 681.3 526.1 684 527.8 686.5 528.8 689.1 529.3 691.7 529.9 693.6 531.8 696.1 532.9 698.1 534.5 700 537.1 701.6 539.4 704.3 540.5 707 540.9 709.3 540.9 711.4 541.8 713.7 542.3 711.5 544.5 709.2 546.3 707 546.7 704.9 547.8 702.4 547.2 700.3 548.5 697.9 550.3 700.7 551.1 702.7 553 705.4 554.7 708.6 556.2 708.7 558.9 709.9 561 711.4 563 712.4 565.1 712.5 567.4 714.9 568.1 717.1 569.9 719.8 567.6 718.7 564.8 718.5 562.1 719.4 559.3 720 556.3 721.7 554.1 723.3 552 722.6 554.7 721.8 557.4 720.2 559.7 723.3 562.2 725.8 562.8 727.8 564.3 730.1 565.2 732.3 566.3 734.3 567.7 736.5 569 738.9 569.1 740.9 570.4 743.2 571.1 745.4 571.6 747.6 571.8 749.9 571.8 752.1 572.5 754.2 573.4 756.2 574.4 758.5 575.3 760.8 576.3 762.9 577.6 765.2 578.5 767.6 579.2 769.5 580.9 771.6 582.1 774.1 582.5 776 584.3 779 585.4 781.5 587.4 784 589.2 786.2 591.5 787.8 594.3 789.7 597 790.5 599.1 790.9 601.4 791.7 603.6 793.1 605.9 794.5 608.4 796.2 610 797.9 611.7 801.5 613.5" stroke-width="3.4"/><path d="M729 534.5 727.7 536.5 725.5 537.4 723.2 538.4 721.3 540.1 719.2 540.7 716.8 540.4 714.7 541.1" stroke-width="3.4"/><path d="M801.5 613.5 799 613.9 796.5 614.7 794.1 615.6 791.4 615.3 789.2 616 787.2 617.3 784.8 617.8 783.8 620 781.9 621.4 780.2 623.2 779.3 625.3 778 627.2 777.3 628.9 779.9 629.6 782.4 628.9 784.9 628.4 787.1 628.2 789.4 627.9 791.5 626.8 793.6 626.4 795.8 625.3 798.2 624.5 800.3 623.7 802.6 623.5 804.7 624.3 807.1 624.2 809.1 625.8 811.5 626.5 813.2 628.2 816 629.6 817.9 632" stroke-width="3.2"/><path d="M743.2 530.1 745.5 530.5 747.7 530.8 749.8 531.9 752.1 532.2 754.2 532.8 756.5 532.8 758.6 533.9 760.7 534.5 763 534.8 765.2 534.6 767.3 535.5 769.7 535 771.8 535.6" stroke-width="3.7"/><path d="M731.1 585.9 733.5 586.1 735.8 584.9 735.9 587.2 737.2 589.3 737.4 591.5 738.2 593.8 737.3 596.2 736.9 598.7 737.1 601.2 736.5 603.6 735.4 605.6 733.8 607.4 732.5 608.8 730.3 607.2 728.1 605.8 727.2 603 727.5 600 727.3 597 727.9 594.9 728.8 592.8 728.8 590.4 730.4 588.4Z" stroke-width="3"/><path d="M347.5 598.7 349.6 599.3 351.8 599.9 354 599.7 356.1 600.5 358.8 600.7 361.2 601.7 363.5 603.1 366 604 368.7 603.3 371.2 604 373.7 604.2 376.2 604.9 378.8 605.1 381.3 605.3 383.9 605.2 386.1 605.1 388.2 604.5 390.4 604.5 392.5 603.8 394.8 602.9 396.9 601.8 399.2 601.9 401.4 602.7 403.5 603.5 405.6 604.4 407.8 604.8 410 605.4 412.3 605.5 414.4 606.4 416.6 606.3 418.8 606.7 421.1 606.6 423.2 607.5 424.2 609.9 425.4 612.2 425.9 614.9 428.2 617 430.4 619.2 432.9 619.8 435.2 620.9 437.8 621.2 440.1 622.1 442.7 621.8 445.2 622.6 446.2 625.1 446 628 446.8 630.6 447.9 633.1" stroke-width="3.2"/><path d="M338.7 614.7 341 614.8 343.2 615.5 345.2 616.7 347.6 616.4 350.1 616.9 352.6 617.8 355.2 618.1 357.7 619 360.1 620 362.8 619.8 365.4 619.7 367.9 620.5 370.4 620.9 372.9 621.5 375.6 621.2 378.1 621.6 380.7 622.1 383.2 622.8 385.6 623.9 388.2 624.5 390.7 625.1 393.4 625.2 395.8 626.2 398.4 626.5 401 626.5 403.5 627.1 406.1 626.8 408.6 627.7 411.2 627.5 413.7 628 416.2 627.9 418.8 627.6 421.3 628.5 423.9 628.4 426.4 629.3 428.9 629.6 431.6 629.4 434.2 629.5 436.7 630.1 439.1 630.9 441.6 631.6 444 632.5 446.5 633.1" stroke-width="3.2"/><path d="M423.1 607.6 425.4 607.8 427.5 607.1 429.7 606.8 431.9 606.6 434.5 607.1 437 607.2 439.5 608.3 442 608.3 445 609.1 448.1 610.8 445 611.6 442.1 612.3 439.5 612.5 437 612.6 434.5 612.8 431.8 613.2 429.4 612.8 427 612.2 425.1 611.7Z" stroke-width="2.5"/><path d="M450.9 624.8 453.7 625.9 456.7 626.4 457 629.4 458.1 632.3 455.8 632.5 454.1 633.3 451.7 632 450.5 630.3 450.7 627.6Z" stroke-width="2.8"/><path d="M461 628.1 464 627.9 466.4 627.4 467.3 630.5 468.4 633.9 465.9 634.7 463.7 634.8 461.6 633.4 460.5 631.4Z" stroke-width="2.8"/><path d="M471.1 627.3 473.7 627.6 476 626.8 478.3 626.8 481 627.2 483.3 628.4 485.9 629.7 488 628.1 490.7 628.1 493 627.3 495.2 627.8 497.5 627.4 499.6 628.4 501.6 628.5 502.9 631.3 504.7 633.7 501.8 635.1 498.8 636.8 496.5 635.8 494 635.6 491.7 635.7 489.3 636.2 486.6 636 484.3 636.7 481.9 637.2 479.5 636.6 476.8 636.9 474.7 634.9 472.5 633.6 471.5 630.8Z" stroke-width="3"/><path d="M507.6 630.8 509.8 630.7 511.9 629.9 514.2 629.8 516.4 628.8 518.4 630.1 520.7 629.9 522.9 630.6 525.1 631.3 528 630.6 530.9 630.6 533.8 630.3 536 630.5 538.2 630.9 540.4 631.6 542.6 631.9 544.7 632.5 546.9 633.3 549.2 632.8 551.4 634.1 553.6 633.3 555.7 632.5 557.7 631.2 559.9 630.4 562.5 630.3 565 629.6 567.4 628.8 569.6 627.4 572.2 627.4 574.5 626.9 577 626.4 579.4 627.4 581.8 627.1 584.5 627 587.1 626.9 589.4 626.4 589.7 630.4 587.4 631.5 585 631.2 582.7 631.8 580.3 631.9 578.1 632 576.1 633.5 573.8 632.9 571.7 633.8 569.4 633.8 567.3 634.9 565 635 563 636.3 560.8 636.7 558.6 636.5 556.3 636.4 554.2 637.5 551.3 636.7 548.3 637.2 545.4 636.7 543.3 635.8 541.1 635.7 538.9 635.4 536.7 635.2 533.8 635.3 530.9 635.9 527.9 636.5 525.1 635.3 522.1 635.8 519.2 635.2 516.3 635.4 513.4 635.6 510.8 634.9 509.3 632.8Z" stroke-width="3"/><path d="M512 644.2 514.4 643.3 516.8 642.6 519.3 642.3 521.4 643.2 523.6 643.4 525.8 643.7 527.7 644.3 530.6 645 532.7 646.9 535.2 648.3 535.7 651.2 536.7 654 533.8 654.8 531.1 655 528.3 655 525.9 653.9 523.7 652.4 521.3 651 519 649.4 516 648.5 514.3 645.9Z" stroke-width="3"/><path d="M576 628.4 578.4 627.9 580.9 627.9 583.3 627.2 586.2 627.1 589.1 626.4 592 625.6 594.9 625.7 597.9 626.2 600.7 625.5" stroke-width="4.6"/><path d="M606.5 622.5 609 621.5 611.3 620 613.9 619.5 616.2 618.4 618.8 618.6 620.9 617.9 623.9 620.3 622.1 622.6 619.7 624.1 617.2 624 614.9 624.6 612.2 624.9 609.5 623.5Z" stroke-width="2.8"/><path d="M631.9 629.6 629.3 629.6 626.7 630.2 623.9 629.7 621.4 630.2 619.1 631.7 616.3 631.3 613.8 632 611.6 632.8 609.5 633.6 607.4 634.8 605.2 635.4 603 636.3 600.9 637.6 598.6 638.4 596.3 639.4 594.4 641.2 591.8 641.8 589.6 643.1 587.4 644.4 585.3 645.9 583.4 647.7 580.9 648.6 579 650.5 576.8 651.7 574.8 653.3 572.2 654 570.5 655.8 567.7 657.4 565.8 660.3 568.2 659.5 570.7 660.1 573 659.8 575.8 657.3 577.7 656.1 579.8 655.3 581.2 653.5 583.5 653 585.7 651.2 588.2 649.8 590.6 648.4 592.6 646.8 595 646.2 597.3 645.3 599.1 643.5 601.4 642.6 603.5 641.3 605.8 640.5 607.9 639.2 610.3 639.1 612.5 638.3 614.4 636.8 616.7 636.4 619 636.1 621.1 635.4 623.4 635.2 625.5 634.3 627.6 632.7 630 631.5Z" stroke-width="3"/><path d="M730.3 591.9 733.2 591.2 736.5 591.3 737.2 593.8 737.9 596.2 738.3 598.7 737.8 601.2 737.2 603.7 736.1 606.1 734 606.9 731.8 607.5 730.9 605 729.8 602.6 729.1 600.2 728.9 598 729.8 595.9 730.4 593.7Z" stroke-width="2.8"/><path d="M784.2 590 785.4 592.6 787.3 594.7 789 597.1 788.9 599.6 790.3 601.6 790.7 603.8 791.1 606.1 792.2 608.5 793.1 611 794.3 613.2 791.9 614.3 790 616.3 788.4 618.1 786 619 784.2 620.6 782.9 623.1 781 625.3 779.8 627.3 782.8 627.5 785.6 628.5 788.5 628.2 790.6 627.5 793 627.8 795.1 627 797.3 626.6 799.5 625.9 801.6 625.3 803.7 624.5 805.9 624.7 808.8 625.1 811.1 626.7 813 628.6 814.7 630.8 816.8 631.9 818.6 633.4 820.4 634.9 821.8 637 824.2 638.4 827 639.4 829.3 641 832.5 641.5 835.7 642.4" stroke-width="3.2"/><path d="M670.6 675.9 672.6 674.4 674.2 672.6 676.4 671.7 679 671.9 681.6 672 684.1 672.3 686.8 673.3 689.1 672 691.6 671.2 693.9 670.3 696.5 670.2 699 669.1 701.6 669.1 704.2 668.4 707.1 669 710.4 670.2 709.4 672.5 709.4 675 708.2 677.2 707.1 680.3 705.5 683 703.2 683.8 700.7 684 698.3 684.4 696.1 684.5 693.9 684 691.7 683.8 689.3 682.8 686.4 684.2 683.7 686.1 681.6 687.2 679.9 689.1 677.9 690.4 676.6 692.5 675.2 694.5 673.3 696.1 671.7 698.5 670.5 701 669.4 703.6 668.2 705.7 668.1 708.1 667.1 710.1 665.9 712.2 665.4 714.4 664.3 716.5 663.8 718.7 663.3 721 663.5 723.3 662.1 725.3 662.1 727.5 661.4 729.9 662.6 732.7 663.3 735.6" stroke-width="3.9"/><path d="M709.9 670.1 712.2 671.7 714.8 673 717.2 674.5 719.8 674.9 722 676.4 724.4 677.4 726.6 679.3 729.2 680.4 731.8 681.7 734.2 682.1 736.6 682.5 739 682.8 741.5 683.4 743.9 682.7 746.2 682.4 748.5 680.9 751.2 680 753.3 678.4 755.4 677.2 757.5 676 759.4 674.4 760.8 672.6 762.3 670.8 763.6 668.8 765.4 667.2 764.2 669.6 763.7 672.2 762.6 674.3 763.8 677.3 765.2 680.3 765.8 682.7 765.7 685.2 767.1 687.8 765 689.3 763.5 691.2 762.6 693.6 760.7 695.1 759.4 697.2 757.5 698.9 756.9 701.4 754.6 702.7 753.5 705 754 708 755.1 711.1 757.6 710.8 759.9 709.6 762.5 709.8 764.5 708.6 767.1 707.9 767.1 710.8 766.7 714.1 764.3 714 761.9 714.2 759.4 713.8 757 714.2 754.5 714.4 752.5 715.4 750.8 718.1 749.5 721.2 747.4 723.7 746.4 726.8 747.7 728.8 749.6 730.4 750.5 733 753.8 733.8 756.5 735.6" stroke-width="3.4"/><path d="M587.6 735.6 588.8 733.2 590.7 731.3 592 729 593.5 726.9 595.3 725.3 596.4 723.2 597.5 721.1 599.1 719.3 601.2 718.1 603.3 716.9 605.3 715.5 606.9 713.5 608.7 711.9 611 710.9 613.3 710.5 615.2 709.2 617.3 708.1 619.7 708 621.9 708.1 624.1 708.3 626.3 708.8 628.6 709.1 631 710.5 633.4 712 635.3 714.1 637.6 715.7 639.7 717.5 641.1 719.8 643.1 721.4 644.2 723.6 645.8 725.2 648.4 725.4 650.8 724.8 653.1 723.8 655.5 723.3 657.9 722.6 660.5 722.4 662.5 723.7 664.2 725.5 666.5 726.9 667.3 724.8 667.7 722.5 668.3 720.3 669.6 718.2 669.6 715.8 670.2 713.5 670.6 711.2 670.5 708.8 670.6 706.5" stroke-width="4.1"/><path d="M262 550 263.5 552 264.7 554.3 266.7 555.9 268 558.1 269.6 559.8 270.9 561.7 272.7 563.2 273.7 565.4 276.2 566.4 277.7 568.4 279.3 570.3 281.3 571.9 283.1 573.5 284.7 575.4 285.9 577.7 288.2 578.9 289.9 580.9 292.1 582.5" stroke-width="3.7"/><path d="M472.7 419.7 474.3 417.9 475.6 415.9 476.8 413.8 478.5 412.1 479.9 410.1 482 408.8 483.5 406.3 484.9 404.1 486.5 406.7 487.6 409.4 488.2 411.9 489.1 414.3 490.5 416.5 492.7 418.8 495.1 420.8" stroke-width="3.4"/><path d="M527.6 334.5 526.4 336.6 525.6 338.9 525.4 341.3 523.9 343.2 522.4 345.4 521.6 348.2 520 350.3 518.4 352.5 516.9 354.7 515.2 356.8 513.8 358.8 512.6 360.9 511.1 362.8 509.7 364.8 508 367.1 506.1 369.3 504.2 371.6 502.1 373.7 500.1 375.8 498.3 378 496.4 379.8 494.7 381.9 492.9 383.9 491.4 386 489.1 387.5 487.3 389.5 485.6 392.2 483.9 395" stroke-width="4.6"/><path d="M305 253.7 306.8 257.1 308.1 259.8 310.2 262" stroke-width="3.4"/><path d="M342.7 262 344.3 262 346 262" stroke-width="3.4"/><path d="M290 577.9 292.5 579.2 294.4 581.4 296.5 583.8 298.8 585.9 300.6 588.1 303.1 589.2 304.6 591.1 306.9 592.2 310.6 590.1 314.1 587.5 317.4 588 320.4 590.7 322.5 593" stroke-width="3.7"/><path d="M323.6 553.3 323.9 555.5 323.1 557.8 323.8 560 323.4 562.8 323.1 565.8 324.1 568.5 325.2 571.2 325.3 574 324.9 576.8 324.3 579.6 325.1 582.4 325 585.2 323.6 587.9 324.1 590.6 323 593" stroke-width="3.4"/><path d="M323 593 325.8 593.5 329.1 594.3 333.1 595.6 337.1 595.9 340.4 594 343.6 593.8 347.2 595.5 350.4 597.4 354.3 597.9 358.2 598.8 361.5 601 363.3 602.6 363.8 605.3 366 605.9 368.4 606.3 371.2 605.8 374 606.4 376.8 606.6 379.6 606.4 382.4 606.9 385.1 607.9 387.7 607.6 390 608.7" stroke-width="3.4"/><path d="M323 593 322 597 320.1 600.2 318 602.8 314 603.1 315.8 606.3 319.1 605.6 321.4 605.2 323.4 606.4 325.7 607.2 328 607.8 330.3 608.4 332.9 608.3 333.9 610 331.5 612.3 333.1 614.7 335.7 614.3 338.1 615.1 340.9 615.2 343.9 615 346.6 616 349.3 617.4 352.3 617.5 355 618.3 357.7 619.3 360.5 618.9 363.3 618.6 366.2 618.4 369 618.9 371.7 619.4 374.5 619.9 377.4 620.3 380.1 621.4 383 622 385.4 622.5 387.6 623.9 390 624.4" stroke-width="3.4"/><path d="M235.9 346.5 234.3 349 232.9 351.5 231.7 354.1 230.8 356.2 229.5 358.3 229.3 360.7 228.3 362.9 229.1 365.3 228.7 367.9 229.3 370.3 230.2 373.3 231.5 376.5 233.8 375.9 236 374.6 238.7 376.3 239.7 379.4 240.6 382.3 242.1 385.1 242.9 388.1 243.2 391.3 244.8 394.1" stroke-width="3.4"/><path d="M323 552.7 325.2 551.1 326.9 548.6 329.4 548.1 331.9 548.2" stroke-width="3.4"/><path d="M548.8 301.2 551.2 299.2 554.5 300.9 553.7 303.7 550.9 304.6 548.5 303.2Z" stroke-width="2.8"/><path d="M569.7 319.7 572 318.5 574.2 317.8 576.6 317.9 578.6 318.9 581 320 582.5 322 583.6 324.3 584.6 326.6" stroke-width="2.8"/><path d="M579.5 349.5 580.9 351.8 582.3 354.1 583.5 356.3 584.4 358.8 585.7 361 587 363.1 587 365.6 587.6 367.7 587.5 370.1 586.9 372.4" stroke-width="2.5"/><path d="M585.8 306 589.6 304.8 590.2 307.1 590.2 309.3 588.3 312.6 589.6 314.7 591.4 316.3 592.3 319.1 594.2 321.5 594.8 324.5 597.4 325.1 599.5 326.6 601.9 327.5 603.9 329 604.4 331.4 606 333.3 606.7 335.7 606 338.1 606.4 340.4 606.5 342.7 607.2 345 608.2 347.2 608.6 349.5" stroke-width="3"/></g><g fill="#000" stroke="none"><ellipse cx="106.6" cy="73.6" rx="3.6" ry="2" transform="rotate(20 106.6 73.6)"/><ellipse cx="110" cy="76.9" rx="3.3" ry="1.8" transform="rotate(10 110 76.9)"/><ellipse cx="103" cy="81.6" rx="2.7" ry="1.4"/><ellipse cx="188" cy="137.8" rx="1.7" ry="1.8"/><path d="M127.8 168 131.1 167.3 132.6 171.8 132.3 177.1 129.6 178.6 127.5 174.8Z"/><ellipse cx="377.5" cy="226.8" rx="2.2" ry="1.3"/><ellipse cx="419.2" cy="75" rx="5.8" ry="2.5" transform="rotate(-10 419.2 75)"/><ellipse cx="278.8" cy="141.1" rx="1.8" ry="2.7"/><ellipse cx="282.9" cy="142.2" rx="1.8" ry="2.2"/><ellipse cx="282.2" cy="147.9" rx="1.6" ry="2.2"/><ellipse cx="277" cy="160.2" rx="1.6" ry="1.1"/><ellipse cx="250.8" cy="114.9" rx="1.6" ry="1.8"/><ellipse cx="242.9" cy="126.5" rx="2.5" ry="3.1"/><ellipse cx="276.8" cy="266.1" rx="1.8" ry="2.5" transform="rotate(-20 276.8 266.1)"/><ellipse cx="290.2" cy="266.3" rx="1.3" ry="2.5" transform="rotate(30 290.2 266.3)"/><ellipse cx="300.7" cy="259.9" rx="1.5" ry="1.8"/><ellipse cx="448.5" cy="156.8" rx="2.7" ry="2.7"/><ellipse cx="472.1" cy="82.8" rx="2.7" ry="2.7"/><ellipse cx="475.5" cy="73.8" rx="3.8" ry="4.3"/><ellipse cx="520.8" cy="162" rx="2" ry="1.6"/><ellipse cx="547.2" cy="176.6" rx="1.1" ry="1.1"/><ellipse cx="548.3" cy="186" rx="1.3" ry="1.3"/><ellipse cx="569" cy="148.3" rx="1.8" ry="1.1"/><ellipse cx="580.9" cy="150.1" rx="2.7" ry="2.2"/><ellipse cx="586.5" cy="147.9" rx="2.2" ry="1.8"/><ellipse cx="593.2" cy="144.9" rx="1.8" ry="1.1"/><ellipse cx="602.2" cy="142.2" rx="2.7" ry="1.8"/><ellipse cx="579.7" cy="154.6" rx="1.1" ry="1.1"/><ellipse cx="623.5" cy="118" rx="1.8" ry="1.3"/><ellipse cx="552.8" cy="205" rx="1.3" ry="1.3"/><ellipse cx="553.9" cy="211.8" rx="1.3" ry="1.8"/><ellipse cx="554.6" cy="223.7" rx="1.3" ry="1.3"/><ellipse cx="547.2" cy="227.5" rx="1.8" ry="1.8"/><ellipse cx="543.9" cy="231.5" rx="1.3" ry="1.8"/><ellipse cx="553.9" cy="233.1" rx="1.3" ry="1.3"/><ellipse cx="663" cy="86.2" rx="4.5" ry="2" transform="rotate(-40 663 86.2)"/><ellipse cx="657.4" cy="90.2" rx="2.2" ry="1.6" transform="rotate(-40 657.4 90.2)"/><ellipse cx="654.1" cy="95.2" rx="1.8" ry="1.3"/><ellipse cx="649.6" cy="100.8" rx="1.3" ry="1.1"/><ellipse cx="645.1" cy="106.4" rx="1.8" ry="1.3"/><ellipse cx="641.1" cy="111.5" rx="3.1" ry="2" transform="rotate(-40 641.1 111.5)"/><ellipse cx="638.1" cy="117.1" rx="3.4" ry="2.7"/><ellipse cx="636.8" cy="121.4" rx="2" ry="1.6"/><ellipse cx="687" cy="126.1" rx="1.3" ry="1.1"/><ellipse cx="831.9" cy="142.9" rx="1.3" ry="1.1"/><path d="M138.2 313.4 142.7 314.6 142 323.5 140.5 332.5 141.6 341.5 138.2 347.1 134.4 344.8 134.9 334.7 136 325.8 136 317.9Z"/><ellipse cx="150.5" cy="293.2" rx="1.3" ry="1.3"/><ellipse cx="145.6" cy="304.9" rx="1.3" ry="1.3"/><ellipse cx="133.1" cy="354.5" rx="2.7" ry="3.1"/><ellipse cx="129.9" cy="341.9" rx="1.3" ry="1.1"/><ellipse cx="334.9" cy="383.8" rx="1.6" ry="1.6"/><ellipse cx="363.3" cy="337.8" rx="1.6" ry="1.6"/><ellipse cx="368.5" cy="357.8" rx="1.3" ry="1.3"/><ellipse cx="355" cy="441.4" rx="1.3" ry="1.3"/><ellipse cx="487.3" cy="390.9" rx="2" ry="4.9" transform="rotate(15 487.3 390.9)"/><ellipse cx="541.7" cy="353.1" rx="1" ry="1"/><ellipse cx="535" cy="417.7" rx="2.5" ry="1.5" transform="rotate(-20 535 417.7)"/><ellipse cx="540.4" cy="423.6" rx="3.4" ry="1.5" transform="rotate(-20 540.4 423.6)"/><ellipse cx="546" cy="421.1" rx="4" ry="1.5" transform="rotate(-10 546 421.1)"/><ellipse cx="538.4" cy="428.2" rx="1.7" ry="1.2"/><ellipse cx="530.3" cy="434.6" rx="1.3" ry="1.7"/><ellipse cx="540.9" cy="353" rx="1.3" ry="1.3"/><ellipse cx="587.2" cy="395.9" rx="1.5" ry="1.5"/><ellipse cx="594.8" cy="413.5" rx="0.8" ry="0.8"/><ellipse cx="623.3" cy="445" rx="2.4" ry="2"/><ellipse cx="172.4" cy="426.5" rx="2.7" ry="2.7"/><path d="M180.3 466.8 187 469.1 193.1 474.7 194.4 479.6 188.1 476.5 181.8 472Z"/><ellipse cx="200.5" cy="478" rx="2.2" ry="1.8"/><ellipse cx="222.2" cy="471.1" rx="4.9" ry="2.9" transform="rotate(50 222.2 471.1)"/><ellipse cx="219.5" cy="509.4" rx="2.5" ry="2.9"/><ellipse cx="236.3" cy="539.7" rx="3.4" ry="1.6" transform="rotate(45 236.3 539.7)"/><ellipse cx="243.1" cy="549.1" rx="4.9" ry="1.8" transform="rotate(55 243.1 549.1)"/><ellipse cx="247.8" cy="554.5" rx="1.6" ry="1.6"/><ellipse cx="152.2" cy="405.2" rx="2" ry="5.4" transform="rotate(-10 152.2 405.2)"/><ellipse cx="229.6" cy="414.6" rx="1.6" ry="1.6"/><ellipse cx="322.7" cy="465.7" rx="2.2" ry="1.8"/><ellipse cx="329.4" cy="462.3" rx="2.2" ry="3.1"/><ellipse cx="329.4" cy="468.4" rx="1.3" ry="1.3"/><ellipse cx="299.8" cy="467.9" rx="1.6" ry="1.6"/><ellipse cx="305.2" cy="473.1" rx="1.1" ry="1.1"/><ellipse cx="348.5" cy="494.9" rx="1.8" ry="2.2"/><ellipse cx="344" cy="506.7" rx="1.1" ry="1.1"/><ellipse cx="262.1" cy="539.7" rx="1.1" ry="1.1"/><ellipse cx="248.2" cy="516.8" rx="1.1" ry="1.1"/><ellipse cx="263.9" cy="491.5" rx="1.1" ry="1.1"/><ellipse cx="335" cy="383.8" rx="1.3" ry="1.3"/><ellipse cx="298" cy="488.1" rx="4.9" ry="3.6"/><ellipse cx="307" cy="493.7" rx="3.6" ry="2.7"/><ellipse cx="304.7" cy="508.3" rx="4" ry="4.9"/><ellipse cx="293.5" cy="510.6" rx="3.1" ry="3.1"/><ellipse cx="284.6" cy="497.1" rx="4.9" ry="2.2" transform="rotate(30 284.6 497.1)"/><ellipse cx="274.5" cy="492.6" rx="3.6" ry="2.2" transform="rotate(30 274.5 492.6)"/><ellipse cx="310.3" cy="511.7" rx="2.2" ry="1.8"/><ellipse cx="414.1" cy="496.2" rx="1.8" ry="1.8"/><ellipse cx="526.2" cy="436.8" rx="2.7" ry="2.2"/><ellipse cx="356.9" cy="452.5" rx="3.4" ry="4.3"/><ellipse cx="354.2" cy="441.3" rx="1.1" ry="1.1"/><ellipse cx="367" cy="466.6" rx="1.1" ry="1.1"/><ellipse cx="370.4" cy="473.1" rx="1.6" ry="1.3"/><ellipse cx="352" cy="466" rx="0.9" ry="0.9"/><ellipse cx="347.9" cy="494.7" rx="1.8" ry="1.6"/><ellipse cx="343.5" cy="507" rx="1.3" ry="1.1"/><ellipse cx="367" cy="531.5" rx="2" ry="1.6"/><ellipse cx="331.1" cy="461.5" rx="1.3" ry="2.7"/><ellipse cx="390.1" cy="592.2" rx="1.1" ry="1.1"/><ellipse cx="421.5" cy="591.6" rx="1.8" ry="1.6"/><ellipse cx="446.6" cy="588.2" rx="1.1" ry="1.1"/><ellipse cx="465.7" cy="578.1" rx="1.8" ry="1.6"/><ellipse cx="497.1" cy="585.9" rx="1.1" ry="1.1"/><ellipse cx="345.2" cy="602.8" rx="1.1" ry="1.1"/><ellipse cx="466.8" cy="610.6" rx="1.8" ry="1.8"/><ellipse cx="460.1" cy="607.3" rx="2.2" ry="1.1"/><ellipse cx="473.5" cy="513.1" rx="1.8" ry="1.1"/><ellipse cx="479.1" cy="524.3" rx="0.9" ry="0.9"/><ellipse cx="416.3" cy="547.8" rx="0.9" ry="1.8"/><ellipse cx="506" cy="477.2" rx="1.3" ry="1.3"/><ellipse cx="622.9" cy="446.5" rx="1.8" ry="2.7"/><ellipse cx="622.9" cy="453.6" rx="1.3" ry="1.8"/><ellipse cx="605.4" cy="457" rx="1.8" ry="2.2"/><ellipse cx="603.6" cy="470.5" rx="1.3" ry="2.2"/><ellipse cx="603.2" cy="477.2" rx="1.1" ry="1.1"/><ellipse cx="617.7" cy="490" rx="1.1" ry="1.1"/><ellipse cx="505.6" cy="477.2" rx="1.3" ry="1.3"/><ellipse cx="571.8" cy="560.2" rx="1.3" ry="1.3"/><ellipse cx="528" cy="434.6" rx="3.1" ry="2.7"/><ellipse cx="518.4" cy="440.6" rx="1.3" ry="1.8"/><ellipse cx="540.4" cy="426.7" rx="4" ry="2" transform="rotate(-30 540.4 426.7)"/><ellipse cx="534.8" cy="536.6" rx="1.3" ry="1.8"/><ellipse cx="547.1" cy="547.8" rx="1.3" ry="1.8"/><ellipse cx="753.1" cy="522.4" rx="7.5" ry="2" transform="rotate(28 753.1 522.4)"/><ellipse cx="738.9" cy="523.5" rx="1.8" ry="1.8"/><ellipse cx="782.8" cy="535.6" rx="1.3" ry="1.1"/><ellipse cx="711.4" cy="588.9" rx="2" ry="4.8" transform="rotate(20 711.4 588.9)"/><ellipse cx="688.8" cy="616.2" rx="7.9" ry="2.6" transform="rotate(-35 688.8 616.2)"/><ellipse cx="692.7" cy="607" rx="1.8" ry="1.3"/><ellipse cx="688.3" cy="567" rx="1.8" ry="1.3"/><ellipse cx="693.8" cy="574" rx="0.9" ry="1.8"/><ellipse cx="698.2" cy="585" rx="1.1" ry="0.9"/><ellipse cx="703.7" cy="589.4" rx="1.1" ry="1.1"/><ellipse cx="668.6" cy="574" rx="1.1" ry="1.8"/><ellipse cx="648.8" cy="611.4" rx="1.3" ry="1.3"/><ellipse cx="666.4" cy="622.3" rx="3.1" ry="2.6"/><ellipse cx="653.2" cy="626.7" rx="1.1" ry="1.1"/><ellipse cx="641.1" cy="627.8" rx="2.2" ry="1.8"/><ellipse cx="759.7" cy="565.2" rx="1.1" ry="2.2"/><ellipse cx="740" cy="560.8" rx="1.1" ry="1.1"/><ellipse cx="671.9" cy="535.6" rx="4" ry="3.1"/><ellipse cx="660.9" cy="525.7" rx="1.1" ry="1.1"/><ellipse cx="667.5" cy="525.2" rx="1.3" ry="0.9"/><ellipse cx="660.9" cy="510.3" rx="2.6" ry="1.3"/><ellipse cx="680.6" cy="512.5" rx="4.4" ry="2.2"/><ellipse cx="389.7" cy="591.5" rx="1.5" ry="1.5"/><ellipse cx="421.7" cy="591.5" rx="1.5" ry="1.5"/><ellipse cx="462.5" cy="608.9" rx="4.1" ry="1.5" transform="rotate(30 462.5 608.9)"/><ellipse cx="538.2" cy="608.9" rx="1.2" ry="2.3"/><ellipse cx="551.3" cy="614.7" rx="1.5" ry="1.5"/><ellipse cx="551.3" cy="659.9" rx="2.9" ry="1.7"/><ellipse cx="632.8" cy="617.7" rx="2.9" ry="1.7"/><ellipse cx="640.1" cy="626.4" rx="4.1" ry="1.7"/><ellipse cx="648.8" cy="611" rx="1.7" ry="1.7"/><ellipse cx="653.2" cy="626.4" rx="1.7" ry="1.5"/><ellipse cx="663.3" cy="622" rx="3.5" ry="2.3"/><ellipse cx="662.8" cy="604.6" rx="0.9" ry="1.2"/><ellipse cx="688.1" cy="617.7" rx="8.7" ry="3.2" transform="rotate(-35 688.1 617.7)"/><ellipse cx="692.5" cy="607.5" rx="2.3" ry="3.5"/><ellipse cx="708.5" cy="591.5" rx="2.9" ry="2.3"/><ellipse cx="676.4" cy="675" rx="6.4" ry="3.5"/><ellipse cx="272.4" cy="585.7" rx="2.4" ry="2.4"/><ellipse cx="345.2" cy="602.7" rx="1" ry="1"/><ellipse cx="321.1" cy="659.7" rx="1.6" ry="1.6"/><ellipse cx="389.3" cy="592.5" rx="1" ry="1"/><ellipse cx="421.4" cy="591.7" rx="1.6" ry="1.6"/><ellipse cx="528.1" cy="334.9" rx="2.7" ry="3.1"/><ellipse cx="484.6" cy="395.5" rx="2" ry="2"/><ellipse cx="505.2" cy="408" rx="1.3" ry="1.3"/><ellipse cx="518.7" cy="439.9" rx="1.8" ry="1.8"/><ellipse cx="525.4" cy="434.3" rx="4" ry="2.5"/><ellipse cx="534.4" cy="418.6" rx="1.8" ry="1.8"/><ellipse cx="540" cy="425.3" rx="4" ry="2" transform="rotate(-30 540 425.3)"/><ellipse cx="550.1" cy="415.2" rx="2.2" ry="1.8"/><ellipse cx="554.6" cy="414.1" rx="1.3" ry="1.3"/><ellipse cx="506.3" cy="476.9" rx="1.3" ry="1.8"/><ellipse cx="605" cy="457.8" rx="1.6" ry="2.7"/><ellipse cx="603.9" cy="470.2" rx="1.3" ry="1.8"/><ellipse cx="604.3" cy="476.9" rx="1.1" ry="1.1"/><ellipse cx="618.5" cy="490.3" rx="1.3" ry="1.8"/><ellipse cx="345.4" cy="602.8" rx="1.6" ry="1.6"/><ellipse cx="306.8" cy="588.6" rx="2.5" ry="1.8"/><ellipse cx="315.2" cy="604.2" rx="2.2" ry="1.8"/><ellipse cx="210.6" cy="304.9" rx="1.5" ry="1.8"/><ellipse cx="209.9" cy="325.7" rx="1.8" ry="1.5"/><ellipse cx="206.2" cy="338.3" rx="2.1" ry="1.3"/><ellipse cx="211.4" cy="334.6" rx="1.6" ry="3"/><ellipse cx="212.8" cy="346.5" rx="1.9" ry="3"/><ellipse cx="210.6" cy="351.7" rx="1.5" ry="1.2"/><ellipse cx="209.9" cy="357.7" rx="1.2" ry="1.2"/><ellipse cx="213.6" cy="355.4" rx="1.3" ry="2.4"/><ellipse cx="209.9" cy="372.6" rx="1.2" ry="1.5"/><ellipse cx="214.3" cy="327.2" rx="1.3" ry="3"/><ellipse cx="211.4" cy="316.8" rx="1.2" ry="2.1"/><ellipse cx="217.3" cy="339.1" rx="1.5" ry="4.5"/><ellipse cx="219.5" cy="324.2" rx="1.2" ry="4.5"/><ellipse cx="661.9" cy="87.3" rx="5.8" ry="2.5" transform="rotate(-40 661.9 87.3)"/><ellipse cx="655.6" cy="92.5" rx="2.7" ry="2" transform="rotate(-40 655.6 92.5)"/><ellipse cx="639.5" cy="114.2" rx="4.5" ry="3.1" transform="rotate(-30 639.5 114.2)"/><ellipse cx="644" cy="108.6" rx="2.2" ry="1.8"/><ellipse cx="582" cy="149.4" rx="3.6" ry="2.7"/><ellipse cx="587.6" cy="147.2" rx="2.7" ry="2"/><ellipse cx="602.6" cy="141.8" rx="3.1" ry="2.2"/><ellipse cx="554.9" cy="316.3" rx="1.4" ry="3.2"/><ellipse cx="562.9" cy="310.6" rx="2.1" ry="1.4"/><ellipse cx="566.9" cy="317.5" rx="1.6" ry="1.3"/><ellipse cx="565.7" cy="302.6" rx="1" ry="3.4" transform="rotate(-30 565.7 302.6)"/><ellipse cx="577.8" cy="309.5" rx="0.9" ry="2.7" transform="rotate(-30 577.8 309.5)"/><ellipse cx="568" cy="363.2" rx="1.8" ry="1.8"/><ellipse cx="607.5" cy="363.2" rx="1" ry="3.2"/><ellipse cx="610.9" cy="368.9" rx="0.9" ry="1.6"/><ellipse cx="592.1" cy="335.8" rx="1.4" ry="1.1"/><ellipse cx="734.2" cy="402" rx="1.5" ry="3" transform="rotate(30 734.2 402)"/><ellipse cx="785.5" cy="371.6" rx="1.8" ry="1.3"/><ellipse cx="527.4" cy="335" rx="4.2" ry="4.6"/><ellipse cx="135.3" cy="353.9" rx="1.8" ry="2.7"/><ellipse cx="140.2" cy="375.5" rx="1.8" ry="1.8"/><ellipse cx="146.1" cy="389.8" rx="2.2" ry="3.1"/><ellipse cx="213.8" cy="346.3" rx="1.8" ry="4.5"/><ellipse cx="216.9" cy="335.1" rx="1.8" ry="3.6"/></g></g>
<rect x="91.45" y="67.5" width="742.95" height="665.65" fill="none" stroke="#000" stroke-width="2.8"/>
<rect x="84.2" y="774.6" width="56.26" height="26.6" fill="#FDD49E"/><rect x="140.26" y="774.6" width="56.26" height="26.6" fill="#FDBB84"/><rect x="196.32" y="774.6" width="56.26" height="26.6" fill="#FC8D59"/><rect x="252.38" y="774.6" width="56.26" height="26.6" fill="#EF6548"/><rect x="308.44" y="774.6" width="56.26" height="26.6" fill="#990000"/><rect x="84.3" y="774.6" width="280.3" height="26.6" fill="none" stroke="#000" stroke-width="1.3"/><line x1="83.7" y1="774.6" x2="365.2" y2="774.6" stroke="#000" stroke-width="2.2"/><line x1="84.3" y1="801.2" x2="84.3" y2="809.7" stroke="#000" stroke-width="1.2"/><line x1="140.36" y1="801.2" x2="140.36" y2="809.7" stroke="#000" stroke-width="1.2"/><line x1="196.42" y1="801.2" x2="196.42" y2="809.7" stroke="#000" stroke-width="1.2"/><line x1="252.48" y1="801.2" x2="252.48" y2="809.7" stroke="#000" stroke-width="1.2"/><line x1="308.54" y1="801.2" x2="308.54" y2="809.7" stroke="#000" stroke-width="1.2"/><line x1="364.6" y1="801.2" x2="364.6" y2="809.7" stroke="#000" stroke-width="1.2"/><rect x="565.1" y="774.6" width="56.26" height="27" fill="#C6DBEF"/><rect x="621.16" y="774.6" width="56.26" height="27" fill="#9ECAE1"/><rect x="677.22" y="774.6" width="56.26" height="27" fill="#6BAED6"/><rect x="733.28" y="774.6" width="56.26" height="27" fill="#4292C6"/><rect x="789.34" y="774.6" width="56.26" height="27" fill="#084594"/><rect x="565.2" y="774.6" width="280.3" height="27" fill="none" stroke="#000" stroke-width="1.3"/><line x1="564.6" y1="774.6" x2="846.1" y2="774.6" stroke="#000" stroke-width="2.2"/><line x1="565.2" y1="801.6" x2="565.2" y2="810.1" stroke="#000" stroke-width="1.2"/><line x1="621.26" y1="801.6" x2="621.26" y2="810.1" stroke="#000" stroke-width="1.2"/><line x1="677.32" y1="801.6" x2="677.32" y2="810.1" stroke="#000" stroke-width="1.2"/><line x1="733.38" y1="801.6" x2="733.38" y2="810.1" stroke="#000" stroke-width="1.2"/><line x1="789.44" y1="801.6" x2="789.44" y2="810.1" stroke="#000" stroke-width="1.2"/><line x1="845.5" y1="801.6" x2="845.5" y2="810.1" stroke="#000" stroke-width="1.2"/><rect x="396.7" y="775.9" width="56.6" height="27.4" fill="#B0ACAC" stroke="#1a1a1a" stroke-width="1.2"/><rect x="484.6" y="775.9" width="56.8" height="27.4" fill="#fff" stroke="#1a1a1a" stroke-width="1.2"/>
</svg>
<div class="t" id="title" style="font-size:26.4px;line-height:26.4px;top:17.15px;letter-spacing:0.68px;left:146.1px;">JFM 2021 Temperature (tercile summary), NCEP</div>
<div class="t" id="sub" style="font-size:16.4px;line-height:16.4px;top:46.92px;letter-spacing:1.17px;left:472px;">Initial conditions 6 Dec 2020 - 15 Dec 2020</div>
<div class="t" id="l20" style="font-size:25.5px;line-height:25.5px;top:203.41px;letter-spacing:1.6px;right:808px;">20°N</div>
<div class="t" id="l10" style="font-size:25.5px;line-height:25.5px;top:351.41px;letter-spacing:1.6px;right:808px;">10°N</div>
<div class="t" id="l0" style="font-size:25.5px;line-height:25.5px;top:494.61px;letter-spacing:1.2px;right:809.8px;">0°</div>
<div class="t" id="l10s" style="font-size:25.5px;line-height:25.5px;top:639.11px;letter-spacing:1px;right:809px;">10°S</div>
<div class="t" id="m90" style="font-size:25.5px;line-height:25.5px;top:739.21px;letter-spacing:1.2px;left:-100.6px;width:400px;text-align:center;">90°E</div>
<div class="t" id="m100" style="font-size:25.5px;line-height:25.5px;top:739.21px;letter-spacing:1.2px;left:42.45px;width:400px;text-align:center;">100°E</div>
<div class="t" id="m110" style="font-size:25.5px;line-height:25.5px;top:739.21px;letter-spacing:1.2px;left:185.5px;width:400px;text-align:center;">110°E</div>
<div class="t" id="m120" style="font-size:25.5px;line-height:25.5px;top:739.21px;letter-spacing:1.2px;left:328.6px;width:400px;text-align:center;">120°E</div>
<div class="t" id="m130" style="font-size:25.5px;line-height:25.5px;top:739.21px;letter-spacing:1.2px;left:471.6px;width:400px;text-align:center;">130°E</div>
<div class="t" id="m140" style="font-size:25.5px;line-height:25.5px;top:739.21px;letter-spacing:1.2px;left:614.7px;width:400px;text-align:center;">140°E</div>
<div class="t" id="a40" style="font-size:15.5px;line-height:15.5px;top:814.18px;left:-113.9px;width:400px;text-align:center;">40</div>
<div class="t" id="a50" style="font-size:15.5px;line-height:15.5px;top:814.18px;left:-57.2px;width:400px;text-align:center;">50</div>
<div class="t" id="a60" style="font-size:15.5px;line-height:15.5px;top:814.18px;left:-1.6px;width:400px;text-align:center;">60</div>
<div class="t" id="a70" style="font-size:15.5px;line-height:15.5px;top:814.18px;left:54.4px;width:400px;text-align:center;">70</div>
<div class="t" id="a80" style="font-size:15.5px;line-height:15.5px;top:814.18px;left:109.8px;width:400px;text-align:center;">80</div>
<div class="t" id="a100" style="font-size:15.5px;line-height:15.5px;top:814.18px;left:152.2px;width:400px;text-align:center;">100</div>
<div class="t" id="b40" style="font-size:15.5px;line-height:15.5px;top:814.18px;left:366.5px;width:400px;text-align:center;">40</div>
<div class="t" id="b50" style="font-size:15.5px;line-height:15.5px;top:814.18px;left:423.5px;width:400px;text-align:center;">50</div>
<div class="t" id="b60" style="font-size:15.5px;line-height:15.5px;top:814.18px;left:479px;width:400px;text-align:center;">60</div>
<div class="t" id="b70" style="font-size:15.5px;line-height:15.5px;top:814.18px;left:535.3px;width:400px;text-align:center;">70</div>
<div class="t" id="b80" style="font-size:15.5px;line-height:15.5px;top:814.18px;left:590.9px;width:400px;text-align:center;">80</div>
<div class="t" id="b100" style="font-size:15.5px;line-height:15.5px;top:814.18px;left:633.9px;width:400px;text-align:center;">100</div>
<div class="t" id="an" style="font-size:15.5px;line-height:15.5px;top:831.88px;letter-spacing:0.12px;left:11.16px;width:400px;text-align:center;">Above Normal (%)</div>
<div class="t" id="bn" style="font-size:15.5px;line-height:15.5px;top:833.68px;letter-spacing:0.25px;left:499.42px;width:400px;text-align:center;">Below Normal (%)</div>
<div class="t" id="nn1" style="font-size:15.5px;line-height:15.5px;top:814.18px;left:226.3px;width:400px;text-align:center;">Near Normal</div>
<div class="t" id="nn2" style="font-size:15.5px;line-height:15.5px;top:833.48px;left:229.4px;width:400px;text-align:center;">(&gt;50%)</div>
<div class="t" id="nd1" style="font-size:15.5px;line-height:15.5px;top:814.18px;left:317px;width:400px;text-align:center;">No</div>
<div class="t" id="nd2" style="font-size:15.5px;line-height:15.5px;top:832.98px;left:317px;width:400px;text-align:center;">dominant</div>
</body></html>
